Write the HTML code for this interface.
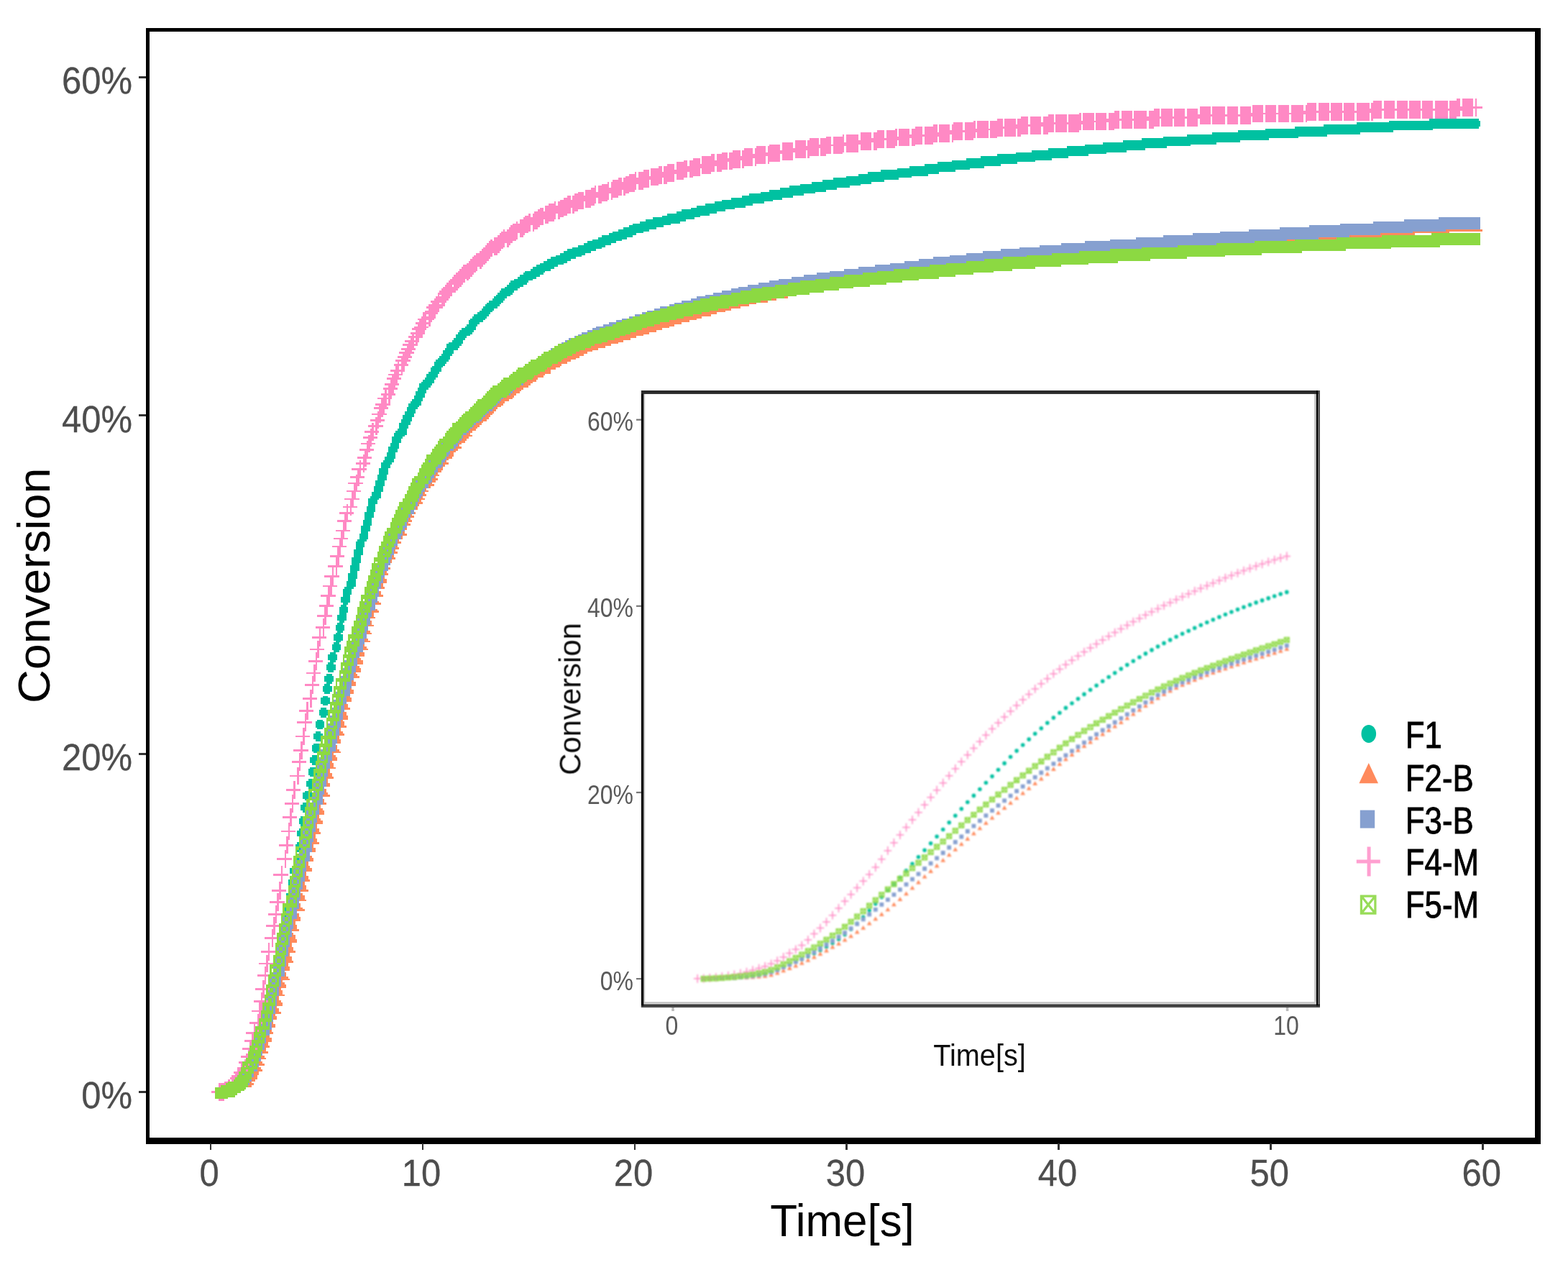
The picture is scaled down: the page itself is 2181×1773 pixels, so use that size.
<!DOCTYPE html>
<html lang="en"><head><meta charset="utf-8"><title>Conversion vs Time</title>
<style>html,body{margin:0;padding:0;background:#fff;width:2181px;height:1773px;overflow:hidden}svg{display:block}text{font-family:"Liberation Sans",sans-serif}</style></head>
<body>
<svg width="2181" height="1773" viewBox="0 0 2181 1773" role="img" aria-label="Conversion versus time for formulations F1 to F5-M with inset of the first 10 seconds">
<rect width="2181" height="1773" fill="#fff"/>
<defs><filter id="vb" x="0" y="0" width="100%" height="100%" filterUnits="userSpaceOnUse" primitiveUnits="userSpaceOnUse"><feGaussianBlur stdDeviation="0 0.6"/></filter></defs>
<g filter="url(#vb)">
<g id="main-series" shape-rendering="crispEdges" transform="scale(2.53605 2.74884)">
<path fill="#00C1A1" d="M784 60h27v1h-27zM762 61h50v1h-50zM744 62h68v1h-68zM726 63h86v1h-86zM710 64h101v1h-101zM694 65h92v1h-92zM679 66h85v1h-85zM665 67h81v1h-81zM651 68h77v1h-77zM638 69h74v1h-74zM626 70h70v1h-70zM616 71h64v1h-64zM605 72h62v1h-62zM595 73h58v1h-58zM585 74h55v1h-55zM575 75h53v1h-53zM566 76h52v1h-52zM557 77h50v1h-50zM547 78h50v1h-50zM538 79h48v1h-48zM530 80h47v1h-47zM522 81h46v1h-46zM514 82h44v1h-44zM507 83h42v1h-42zM499 84h41v1h-41zM492 85h40v1h-40zM483 86h41v1h-41zM476 87h39v1h-39zM471 88h38v1h-38zM464 89h36v1h-36zM457 90h36v1h-36zM451 91h34v1h-34zM445 92h33v1h-33zM439 93h33v1h-33zM433 94h33v1h-33zM428 95h31v1h-31zM422 96h31v1h-31zM417 97h30v1h-30zM411 98h30v1h-30zM407 99h28v1h-28zM401 100h28v1h-28zM396 101h28v1h-28zM392 102h27v1h-27zM387 103h26v1h-26zM382 104h27v1h-27zM379 105h24v1h-24zM374 106h24v1h-24zM371 107h22v1h-22zM366 108h23v1h-23zM363 109h21v1h-21zM358 110h23v1h-23zM354 111h22v1h-22zM351 112h22v1h-22zM347 113h21v1h-21zM345 114h19v1h-19zM342 115h18v1h-18zM339 116h17v1h-17zM336 117h17v1h-17zM334 118h15v1h-15zM330 119h17v1h-17zM328 120h16v1h-16zM325 121h16v1h-16zM322 122h16v1h-16zM320 123h15v1h-15zM317 124h15v1h-15zM314 125h16v1h-16zM311 126h16v1h-16zM309 127h15v1h-15zM307 128h14v1h-14zM305 129h14v1h-14zM302 130h14v1h-14zM300 131h13v1h-13zM298 132h13v1h-13zM296 133h13v1h-13zM294 134h12v1h-12zM292 135h12v1h-12zM291 136h11v1h-11zM288 137h11v1h-11zM287 138h11v1h-11zM285 139h11v1h-11zM284 140h10v1h-10zM282 141h10v1h-10zM280 142h10v1h-10zM279 143h10v1h-10zM278 144h9v1h-9zM277 145h8v1h-8zM275 146h9v1h-9zM274 147h8v1h-8zM273 148h8v1h-8zM272 149h8v1h-8zM271 150h7v1h-7zM270 151h7v1h-7zM268 152h8v1h-8zM267 153h8v1h-8zM266 154h8v1h-8zM265 155h8v1h-8zM264 156h7v1h-7zM263 157h7v1h-7zM262 158h7v1h-7zM260 159h8v1h-8zM259 160h8v1h-8zM258 161h8v1h-8zM257 162h8v1h-8zM257 163h6v1h-6zM256 164h6v1h-6zM255 165h6v1h-6zM253 166h8v1h-8zM252 167h8v1h-8zM251 168h8v1h-8zM250 169h8v1h-8zM250 170h6v1h-6zM249 171h6v1h-6zM248 172h6v1h-6zM246 173h8v1h-8zM245 174h8v1h-8zM245 175h7v1h-7zM244 176h7v1h-7zM243 177h6v2h-6zM242 179h6v1h-6zM241 180h6v1h-6zM240 181h7v1h-7zM239 182h7v1h-7zM238 183h7v1h-7zM238 184h6v1h-6zM237 185h6v1h-6zM236 186h6v2h-6zM235 188h6v1h-6zM234 189h6v2h-6zM233 191h6v1h-6zM232 192h6v1h-6zM231 193h7v1h-7zM230 194h7v1h-7zM230 195h6v1h-6zM229 196h6v1h-6zM229 197h5v1h-5zM228 198h6v1h-6zM228 199h5v1h-5zM227 200h6v1h-6zM227 201h5v1h-5zM226 202h6v1h-6zM225 203h6v1h-6zM224 204h7v1h-7zM224 205h6v1h-6zM223 206h6v1h-6zM223 207h5v1h-5zM222 208h6v1h-6zM222 209h5v1h-5zM221 210h6v1h-6zM221 211h5v1h-5zM220 212h6v1h-6zM220 213h5v1h-5zM219 214h6v1h-6zM219 215h5v2h-5zM218 217h5v1h-5zM217 218h6v1h-6zM216 219h7v1h-7zM216 220h6v1h-6zM215 221h6v1h-6zM215 222h5v2h-5zM214 224h5v2h-5zM213 226h6v1h-6zM213 227h5v2h-5zM212 229h5v2h-5zM211 231h6v1h-6zM211 232h5v1h-5zM210 233h6v1h-6zM209 234h6v1h-6zM209 235h5v2h-5zM208 237h5v3h-5zM207 240h5v3h-5zM206 243h5v3h-5zM205 246h5v3h-5zM204 249h5v2h-5zM203 251h6v1h-6zM202 252h6v1h-6zM202 253h5v2h-5zM202 255h4v1h-4zM201 256h5v3h-5zM200 259h5v3h-5zM200 262h4v1h-4zM199 263h5v3h-5zM198 266h5v3h-5zM198 269h4v1h-4zM197 270h5v3h-5zM196 273h5v1h-5zM195 274h5v3h-5zM195 277h4v1h-4zM194 278h5v3h-5zM194 281h4v1h-4zM193 282h5v3h-5zM193 285h4v1h-4zM192 286h5v3h-5zM192 289h4v1h-4zM191 290h5v3h-5zM191 293h4v1h-4zM190 294h5v3h-5zM189 297h5v1h-5zM188 298h5v3h-5zM188 301h4v1h-4zM187 302h5v3h-5zM188 305h3v1h-3zM187 306h3v1h-3zM186 307h5v3h-5zM186 310h4v1h-4zM185 311h5v3h-5zM186 314h3v1h-3zM185 315h3v1h-3zM184 316h5v3h-5zM185 319h3v1h-3zM184 320h3v1h-3zM183 321h5v3h-5zM184 324h3v1h-3zM183 325h3v1h-3zM182 326h5v3h-5zM183 329h3v1h-3zM181 330h3v1h-3zM180 331h5v3h-5zM181 334h3v1h-3zM180 335h3v1h-3zM179 336h5v3h-5zM180 339h3v1h-3zM179 341h3v1h-3zM178 342h5v3h-5zM179 345h3v1h-3zM178 346h3v1h-3zM177 347h5v3h-5zM178 350h3v1h-3zM177 352h3v1h-3zM176 353h5v3h-5zM177 356h3v1h-3zM176 358h3v1h-3zM175 359h5v3h-5zM176 362h3v1h-3zM174 364h3v1h-3zM173 365h5v3h-5zM174 368h3v1h-3zM173 370h3v1h-3zM172 371h5v1h-5zM172 372h4v2h-4zM173 374h3v1h-3zM172 376h3v1h-3zM171 377h4v3h-4zM172 380h2v1h-2zM171 382h3v1h-3zM170 383h4v2h-4zM170 385h3v1h-3zM171 386h2v1h-2zM170 388h3v1h-3zM169 389h3v3h-3zM173 391h1v1h-1zM170 392h2v1h-2zM169 394h2v1h-2zM168 395h3v3h-3zM169 398h2v1h-2zM167 400h2v1h-2zM166 401h3v3h-3zM170 401h1v2h-1zM167 404h1v1h-1zM166 406h2v1h-2zM165 407h3v1h-3zM165 408h2v2h-2zM166 410h1v1h-1zM165 413h1v1h-1zM164 414h2v3h-2zM165 417h1v1h-1zM164 419h1v1h-1zM163 420h2v3h-2zM163 426h1v1h-1zM162 427h2v1h-2zM164 429h1v1h-1zM163 430h1v1h-1zM163 434h1v1h-1zM159 439h1v3h-1zM158 445h1v3h-1zM157 452h1v1h-1zM156 459h1v2h-1zM156 463h1v1h-1z"/>
<path fill="#FF8A5C" d="M793 116h20v1h-20zM775 117h20v1h-20zM757 118h19v1h-19zM740 119h18v1h-18zM723 120h10v1h-10zM706 121h4v1h-4zM430 150h2v1h-2zM423 151h3v1h-3zM417 152h4v1h-4zM411 153h4v1h-4zM405 154h6v1h-6zM400 155h6v1h-6zM394 156h7v1h-7zM389 157h9v1h-9zM385 158h8v1h-8zM380 159h10v1h-10zM375 160h10v1h-10zM371 161h11v1h-11zM367 162h11v1h-11zM362 163h12v1h-12zM359 164h11v1h-11zM355 165h12v1h-12zM352 166h11v1h-11zM349 167h11v1h-11zM346 168h10v1h-10zM343 169h10v1h-10zM340 170h9v1h-9zM337 171h9v1h-9zM333 172h9v1h-9zM330 173h9v1h-9zM326 174h9v1h-9zM324 175h8v1h-8zM321 176h7v1h-7zM318 177h7v1h-7zM316 178h6v1h-6zM314 179h6v1h-6zM311 180h7v1h-7zM309 181h7v1h-7zM308 182h5v1h-5zM306 183h5v1h-5zM303 184h5v1h-5zM302 185h5v1h-5zM300 186h5v1h-5zM299 187h3v1h-3zM296 188h6v1h-6zM295 189h4v1h-4zM293 190h5v1h-5zM292 191h3v1h-3zM289 192h5v1h-5zM288 193h4v1h-4zM287 194h4v1h-4zM285 195h5v1h-5zM283 196h4v1h-4zM282 197h4v1h-4zM281 198h4v1h-4zM280 199h3v1h-3zM278 200h4v1h-4zM276 201h5v1h-5zM275 202h4v1h-4zM274 203h3v1h-3zM273 204h3v1h-3zM272 205h3v1h-3zM271 206h2v1h-2zM270 207h2v1h-2zM268 208h3v1h-3zM267 209h3v1h-3zM266 210h3v1h-3zM265 211h3v1h-3zM264 212h3v1h-3zM263 213h2v1h-2zM261 214h3v1h-3zM260 215h3v1h-3zM259 216h3v1h-3zM258 217h3v1h-3zM257 218h2v1h-2zM256 219h2v1h-2zM254 220h5v1h-5zM254 221h3v1h-3zM253 222h3v1h-3zM252 223h3v1h-3zM251 224h2v1h-2zM251 225h1v1h-1zM250 226h3v1h-3zM249 227h2v1h-2zM247 228h3v1h-3zM247 229h2v1h-2zM246 230h3v1h-3zM245 231h3v1h-3zM245 232h1v1h-1zM244 233h1v1h-1zM243 234h3v1h-3zM243 235h1v1h-1zM242 236h1v1h-1zM240 237h3v1h-3zM240 238h2v1h-2zM239 239h1v1h-1zM238 240h3v1h-3zM238 241h1v1h-1zM237 242h3v1h-3zM237 243h2v1h-2zM236 244h1v1h-1zM235 245h3v1h-3zM235 246h1v1h-1zM233 247h1v1h-1zM233 248h2v1h-2zM232 249h1v1h-1zM232 250h2v1h-2zM231 251h1v1h-1zM230 252h3v1h-3zM230 253h1v1h-1zM229 254h3v1h-3zM229 255h1v1h-1zM228 256h1v2h-1zM227 259h1v1h-1zM225 260h1v1h-1zM225 261h2v1h-2zM224 262h1v1h-1zM224 263h2v1h-2zM223 264h1v1h-1zM223 265h2v1h-2zM222 267h1v1h-1zM221 269h1v1h-1zM221 270h2v1h-2zM220 271h1v2h-1zM218 273h1v1h-1zM218 274h2v1h-2zM217 276h1v1h-1zM217 277h2v1h-2zM216 278h1v1h-1zM216 279h2v1h-2zM215 281h1v1h-1zM215 282h2v1h-2zM214 283h1v2h-1zM213 287h1v1h-1zM211 289h1v1h-1zM211 290h2v1h-2zM210 292h1v1h-1zM210 293h2v2h-2zM209 295h1v2h-1zM209 297h2v1h-2zM208 299h1v2h-1zM208 301h2v1h-2zM207 304h1v1h-1zM206 305h3v1h-3zM206 308h1v1h-1zM204 309h4v1h-4zM204 310h1v2h-1zM203 312h3v1h-3zM203 314h1v2h-1zM202 316h3v1h-3zM201 319h2v1h-2zM201 320h3v1h-3zM200 323h2v1h-2zM200 324h3v1h-3zM199 326h1v1h-1zM199 327h2v1h-2zM199 328h3v1h-3zM197 330h3v2h-3zM196 333h2v1h-2zM196 334h3v2h-3zM195 337h2v1h-2zM195 338h3v2h-3zM194 340h1v1h-1zM194 341h2v1h-2zM194 342h3v1h-3zM193 344h1v1h-1zM193 345h2v2h-2zM192 348h1v1h-1zM192 349h2v2h-2zM190 352h2v1h-2zM190 353h3v2h-3zM189 356h2v2h-2zM189 358h3v1h-3zM188 360h2v2h-2zM188 362h3v2h-3zM187 364h1v1h-1zM187 365h2v2h-2zM187 367h3v1h-3zM186 368h1v2h-1zM186 370h2v1h-2zM186 371h3v1h-3zM185 372h1v2h-1zM185 374h2v2h-2zM184 377h1v2h-1zM184 379h2v1h-2zM182 380h5v1h-5zM182 381h1v1h-1zM182 382h2v1h-2zM182 383h3v2h-3zM181 385h1v1h-1zM181 386h2v2h-2zM181 388h3v1h-3zM180 389h1v2h-1zM180 391h2v2h-2zM179 393h4v1h-4zM179 394h1v2h-1zM179 396h2v2h-2zM178 399h1v2h-1zM178 401h2v1h-2zM177 402h4v1h-4zM177 404h1v2h-1zM177 406h2v1h-2zM175 407h1v2h-1zM175 409h2v1h-2zM175 410h3v2h-3zM174 412h1v2h-1zM174 414h2v1h-2zM174 415h3v1h-3zM173 416h4v1h-4zM173 417h1v2h-1zM173 419h2v2h-2zM172 421h4v1h-4zM172 422h1v2h-1zM172 424h2v2h-2zM171 426h4v1h-4zM171 427h1v2h-1zM171 429h2v2h-2zM170 433h1v1h-1zM170 434h2v2h-2zM168 436h1v2h-1zM168 438h2v1h-2zM168 439h3v2h-3zM167 441h1v2h-1zM167 443h2v2h-2zM167 445h3v1h-3zM166 446h1v2h-1zM166 448h2v2h-2zM165 450h4v1h-4zM165 452h1v1h-1zM165 453h2v2h-2zM164 455h4v1h-4zM164 457h1v2h-1zM164 459h2v1h-2zM163 460h4v1h-4zM163 462h1v2h-1zM163 464h2v1h-2zM161 465h4v1h-4zM161 466h1v2h-1zM161 468h2v2h-2zM160 470h4v1h-4zM160 472h1v1h-1zM160 473h2v1h-2zM159 474h3v1h-3zM159 475h4v2h-4zM159 477h1v2h-1zM158 479h3v2h-3zM158 481h4v1h-4zM158 482h1v2h-1zM157 484h3v2h-3zM157 486h4v1h-4zM157 487h1v2h-1zM156 489h3v2h-3zM156 492h1v2h-1zM154 494h4v1h-4zM154 495h5v1h-5zM154 496h1v1h-1zM154 497h2v1h-2zM154 498h3v1h-3zM153 499h4v1h-4zM153 500h1v1h-1zM153 501h2v2h-2zM153 503h3v1h-3zM152 504h1v2h-1zM152 506h2v1h-2zM152 507h3v2h-3zM151 509h1v1h-1zM151 510h2v2h-2zM151 512h3v1h-3zM150 513h1v1h-1zM150 514h2v2h-2zM149 517h1v1h-1zM149 518h2v2h-2zM148 521h1v1h-1zM148 522h2v1h-2zM146 524h2v1h-2zM146 525h3v2h-3zM146 527h1v1h-1zM145 528h2v1h-2zM145 529h3v1h-3zM145 530h1v1h-1zM144 531h2v1h-2zM144 532h3v1h-3zM143 534h2v1h-2zM143 535h3v1h-3zM142 537h2v1h-2zM142 538h3v1h-3zM141 540h2v1h-2zM141 541h3v1h-3zM139 542h3v2h-3zM139 544h2v1h-2zM138 545h3v1h-3zM138 546h2v1h-2zM137 547h1v1h-1zM137 548h2v1h-2zM136 549h2v1h-2z"/>
<path fill="#86A0D0" d="M789 110h23v1h-23zM770 111h42v1h-42zM753 112h59v1h-59zM735 113h77v1h-77zM718 114h94v1h-94zM702 115h110v1h-110zM685 116h108v1h-108zM669 117h106v1h-106zM654 118h103v1h-103zM638 119h102v1h-102zM623 120h100v1h-100zM609 121h97v1h-97zM595 122h93v1h-93zM582 123h85v1h-85zM570 124h76v1h-76zM559 125h67v1h-67zM549 126h60v1h-60zM539 127h53v1h-53zM530 128h47v1h-47zM521 129h42v1h-42zM512 130h38v1h-38zM504 131h36v1h-36zM496 132h34v1h-34zM488 133h31v1h-31zM480 134h30v1h-30zM471 135h28v1h-28zM463 136h27v1h-27zM455 137h26v1h-26zM448 138h25v1h-25zM441 139h22v1h-22zM434 140h21v1h-21zM427 141h20v1h-20zM422 142h17v1h-17zM416 143h16v1h-16zM410 144h15v1h-15zM405 145h13v1h-13zM401 146h11v1h-11zM396 147h10v1h-10zM391 148h10v1h-10zM387 149h8v1h-8zM382 150h7v1h-7zM379 151h5v1h-5zM374 152h6v1h-6zM370 153h5v1h-5zM367 154h3v1h-3zM362 155h4v1h-4zM359 156h3v1h-3zM355 157h3v1h-3zM352 158h2v1h-2zM348 159h3v1h-3zM345 160h2v1h-2zM341 161h3v1h-3zM338 162h3v1h-3zM334 163h4v1h-4zM331 164h5v1h-5zM327 165h5v1h-5zM325 166h4v1h-4zM322 167h3v1h-3zM319 168h3v1h-3zM317 169h2v1h-2zM315 170h1v1h-1zM312 171h1v1h-1zM310 172h1v1h-1zM308 173h1v1h-1zM302 176h1v1h-1zM286 194h1v1h-1zM281 197h1v1h-1zM280 198h1v1h-1zM279 199h1v1h-1zM275 201h1v1h-1zM274 202h1v1h-1zM273 203h1v1h-1zM272 204h1v1h-1zM271 205h1v1h-1zM270 206h1v1h-1zM268 207h2v1h-2zM267 208h1v1h-1zM266 209h1v1h-1zM265 210h1v1h-1zM264 211h1v1h-1zM263 212h1v1h-1zM261 213h2v1h-2zM260 214h1v1h-1zM259 215h1v1h-1zM258 216h1v1h-1zM257 217h1v1h-1zM256 218h1v1h-1zM254 219h2v1h-2zM253 220h1v2h-1zM252 222h1v1h-1zM251 223h1v1h-1zM242 224h1v1h-1zM250 224h1v1h-1zM249 225h2v1h-2zM249 226h1v1h-1zM247 227h2v1h-2zM246 228h1v1h-1zM245 229h2v1h-2zM245 230h1v1h-1zM244 231h1v1h-1zM243 232h2v1h-2zM235 233h1v1h-1zM242 233h2v1h-2zM242 234h1v1h-1zM240 235h3v1h-3zM239 236h3v1h-3zM239 237h1v1h-1zM238 238h2v1h-2zM238 239h1v1h-1zM237 240h1v1h-1zM233 241h1v1h-1zM236 241h2v1h-2zM236 242h1v1h-1zM228 243h1v1h-1zM235 243h2v1h-2zM235 244h1v1h-1zM233 245h2v2h-2zM232 247h1v1h-1zM231 248h2v1h-2zM231 249h1v1h-1zM230 250h2v1h-2zM230 251h1v1h-1zM229 252h1v2h-1zM225 254h1v1h-1zM228 254h1v2h-1zM227 256h1v2h-1zM220 257h1v1h-1zM225 258h2v2h-2zM224 260h1v2h-1zM223 262h1v2h-1zM222 264h1v2h-1zM218 266h1v1h-1zM221 266h2v1h-2zM221 267h1v1h-1zM220 268h2v1h-2zM220 269h1v1h-1zM213 270h1v1h-1zM218 270h3v1h-3zM218 271h2v2h-2zM214 273h1v1h-1zM217 273h1v2h-1zM212 275h1v1h-1zM216 275h2v1h-2zM216 276h1v1h-1zM210 277h1v1h-1zM215 277h2v1h-2zM212 278h1v1h-1zM215 278h1v2h-1zM210 280h1v1h-1zM214 280h2v1h-2zM214 281h1v1h-1zM211 282h1v1h-1zM213 282h2v1h-2zM213 283h1v2h-1zM211 285h3v1h-3zM207 286h1v1h-1zM211 286h2v2h-2zM210 288h3v1h-3zM206 289h1v1h-1zM210 289h1v2h-1zM209 291h2v1h-2zM205 292h1v1h-1zM209 292h1v2h-1zM208 294h2v1h-2zM204 295h1v1h-1zM208 295h1v2h-1zM207 297h2v1h-2zM203 298h1v1h-1zM207 298h1v2h-1zM201 300h1v1h-1zM204 300h1v1h-1zM206 300h2v2h-2zM206 302h1v1h-1zM202 303h1v1h-1zM204 303h3v2h-3zM200 305h1v1h-1zM204 305h2v2h-2zM203 307h3v2h-3zM199 308h1v1h-1zM203 309h1v1h-1zM197 310h1v1h-1zM200 310h1v1h-1zM202 310h2v2h-2zM202 312h1v1h-1zM196 313h1v1h-1zM199 313h1v1h-1zM201 313h2v3h-2zM197 315h1v1h-1zM201 316h1v1h-1zM200 317h2v2h-2zM196 318h1v1h-1zM200 319h1v1h-1zM194 320h1v1h-1zM197 320h1v1h-1zM199 320h2v3h-2zM195 323h1v1h-1zM197 323h3v3h-3zM193 325h1v1h-1zM197 326h2v1h-2zM196 327h3v3h-3zM192 328h1v1h-1zM193 330h1v1h-1zM195 330h2v3h-2zM192 333h1v2h-1zM194 333h2v4h-2zM189 334h1v1h-1zM191 337h1v2h-1zM193 337h2v3h-2zM188 338h1v1h-1zM193 340h1v1h-1zM190 341h1v2h-1zM192 341h2v3h-2zM187 342h1v1h-1zM192 344h1v1h-1zM188 345h1v2h-1zM190 345h3v3h-3zM190 348h2v1h-2zM187 349h1v2h-1zM189 349h3v3h-3zM184 350h1v1h-1zM189 352h1v1h-1zM186 353h1v2h-1zM188 353h2v3h-2zM183 354h1v1h-1zM188 356h1v1h-1zM185 357h1v2h-1zM187 357h2v3h-2zM182 358h1v1h-1zM187 360h1v1h-1zM184 361h1v2h-1zM186 361h2v3h-2zM181 362h1v1h-1zM186 364h1v1h-1zM183 365h1v2h-1zM185 365h2v3h-2zM180 366h1v1h-1zM181 367h2v1h-2zM185 368h1v1h-1zM180 369h2v1h-2zM184 369h2v3h-2zM179 370h1v2h-1zM182 370h1v2h-1zM184 372h1v2h-1zM180 374h1v2h-1zM182 374h3v2h-3zM182 376h2v2h-2zM179 378h1v2h-1zM181 378h3v2h-3zM176 379h1v1h-1zM181 380h1v2h-1zM178 382h1v2h-1zM180 382h2v3h-2zM175 383h1v1h-1zM176 384h2v1h-2zM180 385h1v1h-1zM175 386h2v1h-2zM179 386h2v3h-2zM174 387h1v2h-1zM177 387h1v2h-1zM179 389h1v2h-1zM176 391h1v2h-1zM178 391h2v2h-2zM173 392h1v1h-1zM174 393h2v1h-2zM178 393h1v2h-1zM173 395h2v1h-2zM177 395h2v3h-2zM172 396h1v2h-1zM175 396h1v2h-1zM173 398h2v1h-2zM177 398h1v2h-1zM172 400h1v1h-1zM175 400h3v2h-3zM173 401h1v2h-1zM175 402h2v3h-2zM171 403h2v1h-2zM171 405h1v1h-1zM174 405h3v2h-3zM169 406h1v2h-1zM172 406h1v2h-1zM174 407h1v3h-1zM168 410h1v2h-1zM171 410h1v2h-1zM173 410h2v2h-2zM169 412h2v1h-2zM173 412h1v2h-1zM168 414h2v1h-2zM172 414h2v2h-2zM167 415h1v2h-1zM170 415h1v2h-1zM172 416h1v3h-1zM168 417h2v1h-2zM167 419h2v1h-2zM171 419h2v2h-2zM166 420h1v2h-1zM169 420h1v2h-1zM171 421h1v3h-1zM167 422h2v1h-2zM166 424h2v1h-2zM170 424h2v2h-2zM165 425h1v2h-1zM168 425h1v2h-1zM170 426h1v3h-1zM166 427h2v1h-2zM165 429h1v1h-1zM168 429h3v2h-3zM166 430h1v2h-1zM168 431h2v3h-2zM164 432h2v1h-2zM164 434h1v1h-1zM167 434h3v2h-3zM162 435h1v2h-1zM165 435h1v2h-1zM167 436h1v3h-1zM163 437h2v1h-2zM162 439h2v1h-2zM166 439h2v2h-2zM161 440h1v2h-1zM164 440h1v2h-1zM166 441h1v3h-1zM162 442h2v1h-2zM161 444h2v1h-2zM165 444h2v2h-2zM160 445h1v2h-1zM163 445h1v2h-1zM165 446h1v3h-1zM161 447h2v1h-2zM160 449h2v1h-2zM164 449h2v1h-2zM159 450h1v2h-1zM162 450h1v2h-1zM164 450h1v4h-1zM160 452h2v1h-2zM159 454h2v1h-2zM163 454h2v1h-2zM158 455h1v2h-1zM161 455h1v2h-1zM163 455h1v4h-1zM159 459h1v2h-1zM161 459h3v1h-3zM161 460h2v3h-2zM157 461h2v1h-2zM157 463h1v1h-1zM160 463h3v2h-3zM155 464h1v2h-1zM158 464h1v2h-1zM160 465h1v3h-1zM156 466h2v1h-2zM155 468h2v1h-2zM159 468h2v2h-2zM154 469h1v2h-1zM157 469h1v2h-1zM159 470h1v3h-1zM155 471h2v1h-2zM154 473h2v1h-2zM158 473h2v1h-2zM153 474h1v2h-1zM156 474h1v2h-1zM158 474h1v4h-1zM154 476h2v1h-2zM153 478h2v1h-2zM157 478h2v1h-2zM152 479h1v2h-1zM155 479h1v2h-1zM157 479h1v4h-1zM153 481h2v1h-2zM156 483h2v1h-2zM152 484h2v1h-2zM156 484h1v5h-1zM151 485h1v2h-1zM154 485h1v2h-1zM152 487h2v1h-2zM150 489h2v1h-2zM154 489h2v5h-2zM152 490h1v2h-1zM150 492h2v1h-2zM149 494h2v1h-2zM153 494h1v5h-1zM148 495h1v2h-1zM151 495h1v2h-1zM149 497h2v1h-2zM148 499h2v1h-2zM152 499h1v5h-1zM150 500h1v2h-1zM147 501h1v1h-1zM148 502h2v1h-2zM147 504h2v1h-2zM151 504h1v5h-1zM146 505h1v1h-1zM149 505h1v2h-1zM145 509h1v2h-1zM148 509h1v2h-1zM150 509h1v4h-1zM144 513h1v2h-1zM147 513h1v2h-1zM149 513h1v4h-1zM146 517h1v2h-1zM148 517h1v4h-1zM143 518h1v1h-1zM144 521h1v1h-1zM146 521h2v3h-2zM142 523h1v1h-1zM140 525h1v1h-1zM143 525h1v1h-1zM145 525h1v3h-1zM139 528h1v1h-1zM142 528h1v1h-1zM144 528h1v3h-1zM143 532h1v2h-1zM139 533h1v1h-1zM142 535h1v2h-1zM138 536h1v1h-1zM139 538h1v1h-1zM141 538h1v2h-1zM137 539h1v1h-1zM139 541h2v1h-2zM133 543h1v1h-1zM138 543h1v2h-1zM137 546h1v1h-1zM136 548h1v1h-1z"/>
<path fill="#FF89C4" d="M799 50h2v1h-2zM802 50h6v4h-6zM809 50h1v4h-1zM753 51h5v1h-5zM759 51h6v4h-6zM766 51h6v4h-6zM773 51h6v4h-6zM780 51h6v4h-6zM787 51h7v4h-7zM795 51h6v3h-6zM717 52h5v1h-5zM723 52h6v4h-6zM730 52h6v4h-6zM737 52h6v4h-6zM744 52h7v3h-7zM752 52h6v3h-6zM687 53h6v4h-6zM694 53h6v4h-6zM701 53h6v4h-6zM708 53h7v3h-7zM716 53h6v3h-6zM658 54h6v4h-6zM665 54h7v4h-7zM673 54h6v4h-6zM680 54h6v3h-6zM795 54h18v1h-18zM633 55h3v1h-3zM637 55h6v4h-6zM644 55h6v4h-6zM651 55h6v3h-6zM744 55h64v1h-64zM809 55h1v4h-1zM611 56h3v1h-3zM615 56h6v4h-6zM622 56h7v3h-7zM630 56h6v3h-6zM708 56h50v1h-50zM759 56h6v4h-6zM766 56h6v4h-6zM773 56h6v4h-6zM780 56h6v4h-6zM787 56h7v4h-7zM795 56h6v3h-6zM802 56h6v3h-6zM592 57h1v1h-1zM594 57h6v4h-6zM601 57h6v3h-6zM608 57h6v3h-6zM680 57h42v1h-42zM723 57h6v4h-6zM730 57h6v4h-6zM737 57h6v4h-6zM744 57h7v4h-7zM752 57h6v3h-6zM575 58h3v1h-3zM579 58h6v4h-6zM586 58h7v3h-7zM651 58h42v1h-42zM694 58h6v4h-6zM701 58h6v4h-6zM708 58h7v4h-7zM716 58h6v3h-6zM560 59h4v1h-4zM565 59h6v3h-6zM572 59h6v3h-6zM622 59h42v1h-42zM665 59h7v4h-7zM673 59h6v4h-6zM680 59h6v4h-6zM687 59h6v3h-6zM795 59h4v1h-4zM547 60h3v1h-3zM551 60h6v3h-6zM558 60h6v3h-6zM601 60h35v1h-35zM637 60h6v4h-6zM644 60h6v4h-6zM651 60h6v4h-6zM658 60h6v3h-6zM752 60h1v1h-1zM534 61h1v1h-1zM536 61h6v4h-6zM543 61h7v3h-7zM586 61h28v1h-28zM615 61h6v4h-6zM622 61h7v4h-7zM630 61h6v3h-6zM716 61h1v1h-1zM523 62h5v1h-5zM529 62h6v3h-6zM565 62h35v1h-35zM601 62h6v4h-6zM608 62h6v3h-6zM512 63h2v1h-2zM515 63h6v3h-6zM522 63h6v3h-6zM551 63h27v1h-27zM579 63h6v4h-6zM586 63h7v3h-7zM594 63h6v3h-6zM502 64h4v1h-4zM507 64h7v3h-7zM543 64h21v1h-21zM565 64h6v4h-6zM572 64h6v3h-6zM630 64h3v1h-3zM491 65h1v1h-1zM493 65h6v3h-6zM500 65h6v3h-6zM529 65h21v1h-21zM551 65h6v4h-6zM558 65h6v3h-6zM608 65h3v1h-3zM481 66h4v1h-4zM486 66h6v3h-6zM515 66h27v1h-27zM543 66h7v3h-7zM586 66h6v1h-6zM472 67h6v3h-6zM479 67h6v3h-6zM507 67h21v1h-21zM529 67h6v3h-6zM536 67h6v3h-6zM572 67h3v1h-3zM462 68h1v1h-1zM464 68h7v3h-7zM493 68h28v1h-28zM522 68h6v3h-6zM558 68h2v1h-2zM453 69h3v1h-3zM457 69h6v3h-6zM486 69h20v1h-20zM507 69h7v3h-7zM515 69h6v3h-6zM543 69h4v1h-4zM444 70h5v1h-5zM450 70h6v3h-6zM472 70h27v1h-27zM500 70h6v3h-6zM529 70h5v1h-5zM436 71h6v3h-6zM443 71h6v2h-6zM464 71h21v1h-21zM486 71h6v3h-6zM493 71h6v3h-6zM522 71h1v1h-1zM429 72h6v3h-6zM457 72h21v1h-21zM479 72h6v3h-6zM507 72h5v1h-5zM422 73h6v1h-6zM443 73h28v1h-28zM472 73h6v3h-6zM500 73h2v1h-2zM415 74h5v1h-5zM421 74h7v2h-7zM436 74h20v1h-20zM457 74h6v3h-6zM464 74h7v3h-7zM486 74h5v1h-5zM408 75h5v1h-5zM414 75h6v2h-6zM429 75h20v1h-20zM450 75h6v3h-6zM479 75h2v1h-2zM402 76h4v1h-4zM407 76h6v2h-6zM421 76h21v1h-21zM443 76h6v3h-6zM396 77h3v1h-3zM400 77h6v2h-6zM414 77h21v1h-21zM436 77h6v3h-6zM457 77h5v1h-5zM390 78h2v1h-2zM393 78h6v2h-6zM407 78h21v1h-21zM429 78h6v3h-6zM450 78h3v1h-3zM385 79h7v2h-7zM400 79h20v1h-20zM421 79h7v3h-7zM443 79h1v1h-1zM380 80h4v1h-4zM393 80h20v1h-20zM414 80h6v3h-6zM375 81h2v1h-2zM378 81h6v2h-6zM385 81h21v1h-21zM407 81h6v3h-6zM371 82h6v2h-6zM385 82h14v1h-14zM400 82h6v3h-6zM421 82h1v1h-1zM366 83h4v1h-4zM378 83h21v1h-21zM414 83h1v1h-1zM361 84h2v1h-2zM364 84h6v2h-6zM371 84h21v1h-21zM393 84h6v2h-6zM407 84h1v1h-1zM357 85h6v2h-6zM371 85h13v1h-13zM385 85h7v2h-7zM400 85h2v1h-2zM353 86h3v1h-3zM364 86h20v1h-20zM393 86h3v1h-3zM348 87h1v1h-1zM350 87h6v2h-6zM357 87h20v1h-20zM378 87h6v2h-6zM385 87h5v1h-5zM345 88h4v1h-4zM357 88h13v1h-13zM371 88h6v2h-6zM343 89h6v1h-6zM350 89h20v1h-20zM378 89h2v1h-2zM339 90h2v1h-2zM342 90h21v1h-21zM364 90h6v2h-6zM371 90h4v1h-4zM336 91h5v1h-5zM342 91h14v1h-14zM357 91h6v2h-6zM333 92h1v1h-1zM335 92h21v1h-21zM364 92h2v1h-2zM330 93h4v1h-4zM335 93h14v2h-14zM350 93h6v2h-6zM357 93h4v1h-4zM326 94h1v1h-1zM328 94h6v1h-6zM324 95h3v1h-3zM328 95h21v1h-21zM350 95h3v1h-3zM321 96h6v1h-6zM328 96h13v1h-13zM342 96h6v1h-6zM317 97h3v1h-3zM321 97h20v1h-20zM342 97h3v1h-3zM315 98h5v1h-5zM321 98h13v1h-13zM335 98h6v1h-6zM342 98h1v1h-1zM311 99h2v1h-2zM314 99h20v1h-20zM335 99h4v1h-4zM309 100h4v1h-4zM314 100h13v1h-13zM328 100h6v1h-6zM335 100h1v1h-1zM307 101h20v1h-20zM328 101h5v1h-5zM304 102h1v1h-1zM306 102h14v2h-14zM321 102h6v1h-6zM328 102h2v1h-2zM301 103h4v1h-4zM321 103h5v1h-5zM299 104h21v1h-21zM321 104h3v1h-3zM296 105h2v1h-2zM299 105h14v2h-14zM314 105h6v1h-6zM295 106h3v1h-3zM314 106h3v1h-3zM293 107h20v1h-20zM314 107h1v1h-1zM290 108h1v1h-1zM292 108h13v2h-13zM306 108h5v1h-5zM288 109h3v1h-3zM306 109h3v1h-3zM287 110h18v1h-18zM306 110h1v1h-1zM285 111h13v2h-13zM299 111h5v1h-5zM283 112h1v1h-1zM299 112h2v1h-2zM281 113h17v1h-17zM280 114h11v1h-11zM292 114h4v1h-4zM279 115h12v1h-12zM292 115h3v1h-3zM276 116h1v1h-1zM278 116h13v1h-13zM292 116h1v1h-1zM275 117h15v1h-15zM274 118h10v1h-10zM285 118h3v1h-3zM273 119h11v1h-11zM285 119h2v1h-2zM271 120h13v1h-13zM269 121h1v1h-1zM271 121h12v1h-12zM268 122h13v1h-13zM267 123h10v1h-10zM278 123h2v1h-2zM266 124h11v1h-11zM278 124h1v1h-1zM265 125h11v1h-11zM264 126h11v1h-11zM263 127h11v1h-11zM261 128h9v1h-9zM271 128h2v1h-2zM260 129h10v1h-10zM259 130h10v1h-10zM258 131h10v1h-10zM257 132h10v1h-10zM256 133h10v1h-10zM254 134h11v1h-11zM253 135h9v1h-9zM263 135h1v1h-1zM252 136h10v1h-10zM251 137h10v1h-10zM250 138h10v1h-10zM249 139h10v1h-10zM248 140h10v1h-10zM247 141h8v1h-8zM256 141h1v1h-1zM246 142h9v1h-9zM245 143h9v1h-9zM244 144h4v1h-4zM249 144h4v1h-4zM243 145h9v1h-9zM242 146h9v1h-9zM241 147h9v1h-9zM240 148h8v1h-8zM240 149h1v1h-1zM242 149h6v1h-6zM239 150h8v1h-8zM238 151h8v1h-8zM236 152h9v1h-9zM237 153h4v1h-4zM242 153h2v1h-2zM235 154h9v1h-9zM234 155h9v1h-9zM235 156h6v1h-6zM233 157h8v1h-8zM232 158h8v1h-8zM232 159h2v1h-2zM235 159h4v1h-4zM231 160h8v1h-8zM229 161h9v1h-9zM230 162h4v1h-4zM235 162h2v1h-2zM228 163h8v1h-8zM229 164h5v1h-5zM235 164h1v1h-1zM227 165h8v1h-8zM226 166h8v1h-8zM228 167h5v1h-5zM225 168h8v1h-8zM226 169h1v1h-1zM228 169h4v1h-4zM224 170h8v1h-8zM225 171h2v1h-2zM228 171h2v1h-2zM222 172h8v1h-8zM224 173h3v1h-3zM228 173h1v1h-1zM221 174h8v1h-8zM223 175h4v1h-4zM220 176h8v1h-8zM222 177h4v1h-4zM219 178h8v1h-8zM221 179h4v1h-4zM218 180h8v1h-8zM220 181h4v1h-4zM217 182h8v1h-8zM218 183h1v1h-1zM220 183h3v1h-3zM216 184h8v1h-8zM217 185h2v2h-2zM220 185h2v2h-2zM214 187h8v1h-8zM216 188h3v1h-3zM220 188h1v1h-1zM213 189h8v1h-8zM215 190h4v1h-4zM212 191h8v1h-8zM214 192h4v2h-4zM211 194h8v1h-8zM213 195h4v1h-4zM210 196h8v1h-8zM211 197h1v2h-1zM213 197h3v2h-3zM209 199h8v1h-8zM210 200h2v1h-2zM213 200h2v1h-2zM207 201h8v1h-8zM209 202h3v2h-3zM213 202h1v2h-1zM206 204h8v1h-8zM208 205h4v1h-4zM205 206h8v1h-8zM208 207h3v1h-3zM207 208h4v1h-4zM204 209h8v1h-8zM207 210h3v1h-3zM206 211h3v1h-3zM203 212h8v1h-8zM206 213h3v1h-3zM204 214h1v1h-1zM206 214h2v1h-2zM202 215h8v1h-8zM204 216h1v1h-1zM206 216h2v1h-2zM203 217h2v1h-2zM206 217h1v1h-1zM200 218h8v1h-8zM203 219h2v1h-2zM206 219h1v1h-1zM202 220h3v1h-3zM199 221h8v1h-8zM202 222h3v1h-3zM201 223h3v1h-3zM198 224h8v1h-8zM201 225h3v1h-3zM201 226h2v1h-2zM197 227h8v1h-8zM200 228h3v1h-3zM200 229h2v1h-2zM199 230h3v1h-3zM196 231h8v1h-8zM199 232h2v2h-2zM197 233h1v1h-1zM195 234h8v1h-8zM197 235h1v2h-1zM199 235h2v1h-2zM199 236h1v1h-1zM193 237h8v1h-8zM196 238h2v2h-2zM199 238h1v1h-1zM195 240h3v1h-3zM192 241h8v1h-8zM195 242h2v2h-2zM191 244h8v1h-8zM194 245h3v1h-3zM194 246h2v2h-2zM190 248h8v1h-8zM193 249h2v3h-2zM189 252h8v1h-8zM192 253h2v3h-2zM190 255h1v1h-1zM188 256h8v1h-8zM190 257h1v2h-1zM192 257h1v2h-1zM186 259h8v1h-8zM189 260h2v3h-2zM192 260h1v1h-1zM185 263h8v1h-8zM188 264h2v4h-2zM184 268h8v1h-8zM187 269h2v3h-2zM183 272h8v1h-8zM186 273h2v3h-2zM182 276h8v1h-8zM185 277h2v4h-2zM181 281h8v1h-8zM184 282h2v4h-2zM180 286h8v1h-8zM182 287h1v4h-1zM184 287h1v4h-1zM178 291h8v1h-8zM181 292h2v4h-2zM177 296h8v1h-8zM180 297h2v4h-2zM176 301h8v1h-8zM179 302h2v4h-2zM175 306h8v1h-8zM178 307h2v4h-2zM174 311h8v1h-8zM178 312h1v1h-1zM177 313h2v3h-2zM177 316h1v1h-1zM173 317h8v1h-8zM175 318h1v4h-1zM177 318h1v4h-1zM171 322h8v1h-8zM175 323h1v1h-1zM174 324h2v3h-2zM174 327h1v1h-1zM170 328h8v1h-8zM174 329h1v1h-1zM173 330h2v3h-2zM173 333h1v1h-1zM169 334h8v1h-8zM173 335h1v1h-1zM172 336h2v3h-2zM172 339h1v1h-1zM168 340h8v1h-8zM172 341h1v1h-1zM171 342h2v3h-2zM171 345h1v1h-1zM167 346h8v1h-8zM171 347h1v2h-1zM170 349h2v2h-2zM170 351h1v2h-1zM166 353h8v1h-8zM170 354h1v4h-1zM168 355h1v4h-1zM164 359h8v1h-8zM168 360h1v1h-1zM167 361h2v3h-2zM167 364h1v1h-1zM163 365h8v1h-8zM167 366h1v2h-1zM166 368h2v2h-2zM166 370h1v2h-1zM162 372h8v1h-8zM166 373h1v2h-1zM165 375h2v2h-2zM165 377h1v2h-1zM161 379h8v1h-8zM165 380h1v1h-1zM164 381h2v3h-2zM164 384h1v1h-1zM160 385h8v1h-8zM164 386h1v2h-1zM163 388h2v2h-2zM163 390h1v2h-1zM159 392h8v1h-8zM163 393h1v4h-1zM161 395h1v4h-1zM157 399h8v1h-8zM161 400h1v2h-1zM160 402h2v2h-2zM160 404h1v2h-1zM156 406h8v1h-8zM160 407h1v2h-1zM159 409h2v2h-2zM159 411h1v2h-1zM155 413h8v1h-8zM159 414h1v2h-1zM158 416h2v2h-2zM158 418h1v2h-1zM154 420h8v1h-8zM158 421h1v2h-1zM157 423h2v2h-2zM157 425h1v2h-1zM153 427h8v1h-8zM157 428h1v2h-1zM156 430h2v2h-2zM156 432h1v2h-1zM152 434h8v1h-8zM156 435h1v4h-1zM154 438h1v4h-1zM150 442h8v1h-8zM154 443h1v3h-1zM153 446h2v1h-2zM153 447h1v3h-1zM149 450h8v1h-8zM153 451h1v1h-1zM152 452h2v3h-2zM152 455h1v1h-1zM148 456h8v1h-8zM152 457h1v1h-1zM151 458h2v3h-2zM151 461h1v1h-1zM147 462h7v1h-7zM151 463h1v1h-1zM150 464h2v3h-2zM150 467h1v1h-1zM146 468h7v1h-7zM150 469h1v1h-1zM149 470h2v3h-2zM149 473h1v1h-1zM145 474h7v1h-7zM149 475h1v4h-1zM147 477h1v4h-1zM143 481h8v1h-8zM147 482h1v1h-1zM146 483h2v3h-2zM146 486h1v1h-1zM142 487h8v1h-8zM146 488h1v1h-1zM145 489h2v3h-2zM145 492h1v1h-1zM141 493h6v1h-6zM145 494h1v2h-1zM144 496h2v2h-2zM144 498h1v2h-1zM140 500h6v1h-6zM147 500h1v1h-1zM144 501h1v1h-1zM143 502h2v3h-2zM143 505h1v1h-1zM139 506h6v1h-6zM146 506h1v1h-1zM142 507h2v4h-2zM138 511h5v1h-5zM142 512h1v1h-1zM141 513h2v2h-2zM141 515h1v2h-1zM137 517h5v1h-5zM143 517h1v1h-1zM139 518h1v4h-1zM141 518h1v1h-1zM141 521h1v1h-1zM135 522h4v1h-4zM138 523h1v3h-1zM134 526h4v1h-4zM137 527h1v2h-1zM133 530h4v1h-4zM140 530h1v1h-1zM136 531h1v1h-1zM135 533h1v1h-1zM132 534h4v1h-4zM134 536h1v1h-1zM131 537h2v1h-2zM132 538h1v2h-1zM136 538h1v1h-1zM134 539h1v1h-1zM130 540h2v2h-2zM135 541h1v1h-1zM128 542h3v1h-3zM129 543h2v1h-2zM127 544h3v1h-3zM126 545h3v1h-3zM125 546h1v1h-1zM127 546h1v1h-1zM123 547h2v1h-2zM120 548h4v1h-4zM120 549h1v1h-1zM116 552h2v1h-2zM120 556h3v1h-3z"/>
<path fill="#8CD942" d="M785 118h27v1h-27zM758 119h54v1h-54zM733 120h79v1h-79zM710 121h102v1h-102zM688 122h124v1h-124zM667 123h145v1h-145zM646 124h144v1h-144zM626 125h137v1h-137zM609 126h129v1h-129zM592 127h122v1h-122zM577 128h115v1h-115zM563 129h109v1h-109zM550 130h101v1h-101zM540 131h91v1h-91zM530 132h83v1h-83zM519 133h78v1h-78zM510 134h72v1h-72zM499 135h69v1h-69zM490 136h65v1h-65zM481 137h64v1h-64zM473 138h61v1h-61zM463 139h61v1h-61zM455 140h60v1h-60zM447 141h57v1h-57zM439 142h56v1h-56zM432 143h54v1h-54zM425 144h52v1h-52zM418 145h50v1h-50zM412 146h48v1h-48zM406 147h46v1h-46zM401 148h43v1h-43zM395 149h42v1h-42zM389 150h41v1h-41zM384 151h39v1h-39zM380 152h37v1h-37zM375 153h36v1h-36zM370 154h35v1h-35zM366 155h34v1h-34zM362 156h32v1h-32zM358 157h31v1h-31zM354 158h31v1h-31zM351 159h29v1h-29zM347 160h28v1h-28zM344 161h27v1h-27zM341 162h26v1h-26zM338 163h24v1h-24zM336 164h23v1h-23zM332 165h23v1h-23zM329 166h23v1h-23zM325 167h24v1h-24zM322 168h24v1h-24zM319 169h24v1h-24zM316 170h24v1h-24zM313 171h24v1h-24zM311 172h22v1h-22zM309 173h21v1h-21zM306 174h20v1h-20zM304 175h20v1h-20zM303 176h18v1h-18zM301 177h17v1h-17zM298 178h18v1h-18zM297 179h17v1h-17zM295 180h16v1h-16zM294 181h15v1h-15zM291 182h17v1h-17zM290 183h16v1h-16zM288 184h15v1h-15zM287 185h15v1h-15zM284 186h16v1h-16zM283 187h16v1h-16zM281 188h15v1h-15zM280 189h15v1h-15zM279 190h14v1h-14zM276 191h16v1h-16zM275 192h14v1h-14zM274 193h14v1h-14zM273 194h13v1h-13zM270 195h15v1h-15zM269 196h14v1h-14zM268 197h13v1h-13zM267 198h13v1h-13zM266 199h13v1h-13zM265 200h13v1h-13zM264 201h11v1h-11zM262 202h12v1h-12zM261 203h12v1h-12zM260 204h12v1h-12zM259 205h12v1h-12zM258 206h12v1h-12zM257 207h11v1h-11zM255 208h12v1h-12zM254 209h12v1h-12zM253 210h12v1h-12zM252 211h12v1h-12zM251 212h12v1h-12zM250 213h11v1h-11zM248 214h12v1h-12zM248 215h11v1h-11zM247 216h11v1h-11zM246 217h11v1h-11zM245 218h11v1h-11zM244 219h10v1h-10zM244 220h9v1h-9zM243 221h10v1h-10zM241 222h11v1h-11zM240 223h11v1h-11zM240 224h2v1h-2zM243 224h7v1h-7zM239 225h10v1h-10zM238 226h11v1h-11zM237 227h10v1h-10zM237 228h9v1h-9zM236 229h9v1h-9zM234 230h11v1h-11zM234 231h10v1h-10zM233 232h10v1h-10zM233 233h2v1h-2zM236 233h6v1h-6zM232 234h10v1h-10zM231 235h9v1h-9zM231 236h8v1h-8zM230 237h9v1h-9zM230 238h8v1h-8zM229 239h9v1h-9zM229 240h8v1h-8zM227 241h6v1h-6zM234 241h2v1h-2zM226 242h10v1h-10zM226 243h2v1h-2zM229 243h6v1h-6zM225 244h10v1h-10zM225 245h8v1h-8zM224 246h9v1h-9zM224 247h8v1h-8zM223 248h8v2h-8zM222 250h8v2h-8zM221 252h8v2h-8zM219 254h6v1h-6zM226 254h2v1h-2zM219 255h9v1h-9zM218 256h9v1h-9zM218 257h2v1h-2zM221 257h6v1h-6zM217 258h8v2h-8zM216 260h8v2h-8zM215 262h8v2h-8zM214 264h8v2h-8zM214 266h4v1h-4zM219 266h2v1h-2zM212 267h9v1h-9zM212 268h8v1h-8zM211 269h9v1h-9zM211 270h2v1h-2zM214 270h4v1h-4zM210 271h8v2h-8zM210 273h4v1h-4zM215 273h2v1h-2zM209 274h8v1h-8zM209 275h3v1h-3zM213 275h3v1h-3zM208 276h8v1h-8zM208 277h2v1h-2zM211 277h4v1h-4zM208 278h4v1h-4zM213 278h2v1h-2zM207 279h8v1h-8zM207 280h3v1h-3zM211 280h3v1h-3zM207 281h7v1h-7zM205 282h6v1h-6zM212 282h1v1h-1zM205 283h8v1h-8zM205 284h1v1h-1zM207 284h6v1h-6zM204 285h7v1h-7zM204 286h3v1h-3zM208 286h3v1h-3zM204 287h7v1h-7zM203 288h7v1h-7zM203 289h3v1h-3zM207 289h3v1h-3zM203 290h7v1h-7zM202 291h7v1h-7zM202 292h3v1h-3zM206 292h3v1h-3zM202 293h7v1h-7zM201 294h7v1h-7zM201 295h3v1h-3zM205 295h3v1h-3zM201 296h7v1h-7zM200 297h7v1h-7zM200 298h3v1h-3zM204 298h3v1h-3zM200 299h7v1h-7zM200 300h1v1h-1zM202 300h2v1h-2zM205 300h1v1h-1zM198 301h8v2h-8zM198 303h1v1h-1zM200 303h2v1h-2zM203 303h1v1h-1zM197 304h7v1h-7zM197 305h3v1h-3zM201 305h3v1h-3zM197 306h7v1h-7zM196 307h7v1h-7zM196 308h3v1h-3zM200 308h3v1h-3zM196 309h7v1h-7zM196 310h1v1h-1zM198 310h2v1h-2zM201 310h1v1h-1zM195 311h7v2h-7zM195 313h1v1h-1zM197 313h2v1h-2zM200 313h1v1h-1zM194 314h7v1h-7zM194 315h3v1h-3zM198 315h3v1h-3zM194 316h7v1h-7zM193 317h7v1h-7zM193 318h3v1h-3zM197 318h3v1h-3zM193 319h7v1h-7zM193 320h1v1h-1zM195 320h2v1h-2zM198 320h1v1h-1zM191 321h8v2h-8zM191 323h1v1h-1zM193 323h2v1h-2zM196 323h1v1h-1zM190 324h7v1h-7zM190 325h3v1h-3zM194 325h3v1h-3zM190 326h7v1h-7zM189 327h7v1h-7zM189 328h3v1h-3zM193 328h3v1h-3zM189 329h7v1h-7zM189 330h1v1h-1zM191 330h2v1h-2zM194 330h1v1h-1zM188 331h7v2h-7zM188 333h1v2h-1zM190 333h2v2h-2zM193 333h1v2h-1zM187 335h7v2h-7zM187 337h1v2h-1zM189 337h2v2h-2zM192 337h1v2h-1zM186 339h7v2h-7zM186 341h1v2h-1zM188 341h2v2h-2zM191 341h1v2h-1zM184 343h8v2h-8zM184 345h1v2h-1zM186 345h2v2h-2zM189 345h1v2h-1zM183 347h7v2h-7zM183 349h1v2h-1zM185 349h2v2h-2zM188 349h1v2h-1zM182 351h7v2h-7zM182 353h1v2h-1zM184 353h2v2h-2zM187 353h1v2h-1zM181 355h7v2h-7zM181 357h1v2h-1zM183 357h2v2h-2zM186 357h1v2h-1zM180 359h7v2h-7zM180 361h1v2h-1zM182 361h2v2h-2zM185 361h1v2h-1zM179 363h7v2h-7zM179 365h1v2h-1zM181 365h2v2h-2zM184 365h1v2h-1zM179 367h2v1h-2zM183 367h2v1h-2zM178 368h7v1h-7zM178 369h2v1h-2zM182 369h2v1h-2zM178 370h1v2h-1zM180 370h2v2h-2zM183 370h1v2h-1zM176 372h8v2h-8zM176 374h1v2h-1zM178 374h2v2h-2zM181 374h1v2h-1zM175 376h7v2h-7zM175 378h1v2h-1zM177 378h2v2h-2zM180 378h1v2h-1zM174 380h7v2h-7zM174 382h1v2h-1zM176 382h2v2h-2zM179 382h1v2h-1zM174 384h2v1h-2zM178 384h2v1h-2zM173 385h7v1h-7zM173 386h2v1h-2zM177 386h2v1h-2zM173 387h1v2h-1zM175 387h2v2h-2zM178 387h1v2h-1zM172 389h7v2h-7zM172 391h1v2h-1zM174 391h2v2h-2zM177 391h1v2h-1zM172 393h2v1h-2zM176 393h2v1h-2zM171 394h7v1h-7zM171 395h2v1h-2zM175 395h2v1h-2zM171 396h1v2h-1zM173 396h2v2h-2zM176 396h1v2h-1zM171 398h2v1h-2zM175 398h2v1h-2zM169 399h8v1h-8zM169 400h2v1h-2zM173 400h2v1h-2zM169 401h1v2h-1zM171 401h2v2h-2zM174 401h1v2h-1zM169 403h2v1h-2zM173 403h2v1h-2zM168 404h7v1h-7zM168 405h2v1h-2zM172 405h2v1h-2zM168 406h1v2h-1zM170 406h2v2h-2zM173 406h1v2h-1zM167 408h7v2h-7zM167 410h1v2h-1zM169 410h2v2h-2zM172 410h1v2h-1zM167 412h2v1h-2zM171 412h2v1h-2zM166 413h7v1h-7zM166 414h2v1h-2zM170 414h2v1h-2zM166 415h1v2h-1zM168 415h2v2h-2zM171 415h1v2h-1zM166 417h2v1h-2zM170 417h2v1h-2zM165 418h7v1h-7zM165 419h2v1h-2zM169 419h2v1h-2zM165 420h1v2h-1zM167 420h2v2h-2zM170 420h1v2h-1zM165 422h2v1h-2zM169 422h2v1h-2zM164 423h7v1h-7zM164 424h2v1h-2zM168 424h2v1h-2zM164 425h1v2h-1zM166 425h2v2h-2zM169 425h1v2h-1zM164 427h2v1h-2zM168 427h2v1h-2zM162 428h8v1h-8zM162 429h2v1h-2zM166 429h2v1h-2zM162 430h1v2h-1zM164 430h2v2h-2zM167 430h1v2h-1zM162 432h2v1h-2zM166 432h2v1h-2zM161 433h7v1h-7zM161 434h2v1h-2zM165 434h2v1h-2zM161 435h1v2h-1zM163 435h2v2h-2zM166 435h1v2h-1zM161 437h2v1h-2zM165 437h2v1h-2zM160 438h7v1h-7zM160 439h2v1h-2zM164 439h2v1h-2zM160 440h1v2h-1zM162 440h2v2h-2zM165 440h1v2h-1zM160 442h2v1h-2zM164 442h2v1h-2zM159 443h7v1h-7zM159 444h2v1h-2zM163 444h2v1h-2zM159 445h1v2h-1zM161 445h2v2h-2zM164 445h1v2h-1zM159 447h2v1h-2zM163 447h2v1h-2zM158 448h7v1h-7zM158 449h2v1h-2zM162 449h2v1h-2zM158 450h1v2h-1zM160 450h2v2h-2zM163 450h1v2h-1zM158 452h2v1h-2zM162 452h2v1h-2zM157 453h7v1h-7zM157 454h2v1h-2zM161 454h2v1h-2zM157 455h1v2h-1zM159 455h2v2h-2zM162 455h1v2h-1zM155 457h8v2h-8zM155 459h1v2h-1zM157 459h2v2h-2zM160 459h1v2h-1zM155 461h2v1h-2zM159 461h2v1h-2zM154 462h7v1h-7zM154 463h2v1h-2zM158 463h2v1h-2zM154 464h1v2h-1zM156 464h2v2h-2zM159 464h1v2h-1zM154 466h2v1h-2zM158 466h2v1h-2zM153 467h7v1h-7zM153 468h2v1h-2zM157 468h2v1h-2zM153 469h1v2h-1zM155 469h2v2h-2zM158 469h1v2h-1zM153 471h2v1h-2zM157 471h2v1h-2zM152 472h7v1h-7zM152 473h2v1h-2zM156 473h2v1h-2zM152 474h1v2h-1zM154 474h2v2h-2zM157 474h1v2h-1zM152 476h2v1h-2zM156 476h2v1h-2zM151 477h7v1h-7zM151 478h2v1h-2zM155 478h2v1h-2zM151 479h1v2h-1zM153 479h2v2h-2zM156 479h1v2h-1zM151 481h2v1h-2zM155 481h2v1h-2zM151 482h6v1h-6zM150 483h6v1h-6zM150 484h2v1h-2zM154 484h2v1h-2zM150 485h1v2h-1zM152 485h2v2h-2zM155 485h1v2h-1zM150 487h2v1h-2zM154 487h2v1h-2zM148 488h8v1h-8zM148 489h2v1h-2zM152 489h2v1h-2zM148 490h1v2h-1zM150 490h2v2h-2zM153 490h1v2h-1zM148 492h2v1h-2zM152 492h2v1h-2zM147 493h7v1h-7zM147 494h2v1h-2zM151 494h2v1h-2zM147 495h1v2h-1zM149 495h2v2h-2zM152 495h1v2h-1zM147 497h2v1h-2zM151 497h2v1h-2zM146 498h7v1h-7zM146 499h2v1h-2zM150 499h2v1h-2zM146 500h1v2h-1zM148 500h2v2h-2zM151 500h1v2h-1zM146 502h2v1h-2zM150 502h2v1h-2zM145 503h7v1h-7zM145 504h2v1h-2zM149 504h2v1h-2zM145 505h1v2h-1zM147 505h2v2h-2zM150 505h1v2h-1zM144 507h7v2h-7zM144 509h1v2h-1zM146 509h2v2h-2zM149 509h1v2h-1zM143 511h7v2h-7zM143 513h1v2h-1zM145 513h2v2h-2zM148 513h1v2h-1zM142 515h7v2h-7zM142 517h1v2h-1zM144 517h2v2h-2zM147 517h1v2h-1zM140 519h8v2h-8zM140 521h1v1h-1zM142 521h2v1h-2zM145 521h1v1h-1zM139 522h7v1h-7zM139 523h3v1h-3zM143 523h3v1h-3zM139 524h7v1h-7zM139 525h1v1h-1zM141 525h2v1h-2zM144 525h1v1h-1zM138 526h7v2h-7zM138 528h1v1h-1zM140 528h2v1h-2zM143 528h1v1h-1zM137 529h7v1h-7zM137 530h3v1h-3zM141 530h3v1h-3zM137 531h7v1h-7zM136 532h7v1h-7zM136 533h3v1h-3zM140 533h3v1h-3zM136 534h7v1h-7zM135 535h7v1h-7zM135 536h3v1h-3zM139 536h3v1h-3zM133 537h9v1h-9zM133 538h3v1h-3zM137 538h2v1h-2zM140 538h1v1h-1zM133 539h1v1h-1zM135 539h2v1h-2zM138 539h3v1h-3zM132 540h9v1h-9zM132 541h3v1h-3zM136 541h3v1h-3zM131 542h8v1h-8zM131 543h2v1h-2zM134 543h4v1h-4zM130 544h8v1h-8zM129 545h9v1h-9zM128 546h9v1h-9zM125 547h12v1h-12zM124 548h12v1h-12zM121 549h15v1h-15zM118 550h17v1h-17zM118 551h16v1h-16zM118 552h14v1h-14zM118 553h12v1h-12zM118 554h11v1h-11zM118 555h7v1h-7z"/>
</g>
</g>
<g id="main-frame" fill="#000" shape-rendering="crispEdges">
<rect x="203" y="39" width="5" height="1551.7"/>
<rect x="203" y="39" width="1939.5" height="5"/>
<rect x="2135" y="39" width="7.5" height="1551.7"/>
<rect x="203" y="1582" width="1939.5" height="8.7"/>
</g>
<g id="main-ticks" fill="#333" shape-rendering="crispEdges">
<rect x="193" y="1517" width="10" height="3"/>
<rect x="193" y="1047" width="10" height="3"/>
<rect x="193" y="576" width="10" height="3"/>
<rect x="193" y="106" width="10" height="3"/>
<rect x="291.6" y="1590" width="2.5" height="9"/>
<rect x="586.5" y="1590" width="2.5" height="9"/>
<rect x="881.5" y="1590" width="2.5" height="9"/>
<rect x="1176.4" y="1590" width="2.5" height="9"/>
<rect x="1471.3" y="1590" width="2.5" height="9"/>
<rect x="1766.3" y="1590" width="2.5" height="9"/>
<rect x="2061.2" y="1590" width="2.5" height="9"/>
</g>
<g id="main-labels">
<text id="my0" transform="translate(184,1541.0) scale(0.96,1.0)" font-size="51" fill="#4D4D4D" text-anchor="end" stroke="#4D4D4D" stroke-width="0.3">0%</text>
<text id="my1" transform="translate(184,1070.8) scale(0.96,1.0)" font-size="51" fill="#4D4D4D" text-anchor="end" stroke="#4D4D4D" stroke-width="0.3">20%</text>
<text id="my2" transform="translate(184,600.6) scale(0.96,1.0)" font-size="51" fill="#4D4D4D" text-anchor="end" stroke="#4D4D4D" stroke-width="0.3">40%</text>
<text id="my3" transform="translate(184,130.4) scale(0.96,1.0)" font-size="51" fill="#4D4D4D" text-anchor="end" stroke="#4D4D4D" stroke-width="0.3">60%</text>
<text id="mx0" transform="translate(291.1,1648.8) scale(0.96,1.0)" font-size="51" fill="#4D4D4D" text-anchor="middle" stroke="#4D4D4D" stroke-width="0.3">0</text>
<text id="mx1" transform="translate(586.0,1648.8) scale(0.96,1.0)" font-size="51" fill="#4D4D4D" text-anchor="middle" stroke="#4D4D4D" stroke-width="0.3">10</text>
<text id="mx2" transform="translate(881.0,1648.8) scale(0.96,1.0)" font-size="51" fill="#4D4D4D" text-anchor="middle" stroke="#4D4D4D" stroke-width="0.3">20</text>
<text id="mx3" transform="translate(1175.9,1648.8) scale(0.96,1.0)" font-size="51" fill="#4D4D4D" text-anchor="middle" stroke="#4D4D4D" stroke-width="0.3">30</text>
<text id="mx4" transform="translate(1470.9,1648.8) scale(0.96,1.0)" font-size="51" fill="#4D4D4D" text-anchor="middle" stroke="#4D4D4D" stroke-width="0.3">40</text>
<text id="mx5" transform="translate(1765.8,1648.8) scale(0.96,1.0)" font-size="51" fill="#4D4D4D" text-anchor="middle" stroke="#4D4D4D" stroke-width="0.3">50</text>
<text id="mx6" transform="translate(2060.8,1648.8) scale(0.96,1.0)" font-size="51" fill="#4D4D4D" text-anchor="middle" stroke="#4D4D4D" stroke-width="0.3">60</text>
<text id="mxt" transform="translate(1171.5,1718.6) scale(0.975,1.0)" font-size="63.5" fill="#000" text-anchor="middle">Time[s]</text>
<text id="myt" transform="translate(68.6,814.3) rotate(-90) scale(1.02,1.0)" font-size="63.5" fill="#000" text-anchor="middle">Conversion</text>
</g>
<g id="inset">
<rect x="892" y="545" width="942" height="854" fill="#fff"/>
<defs><filter id="b1" x="-5%" y="-5%" width="110%" height="110%"><feGaussianBlur stdDeviation="0.8"/></filter><filter id="b2" x="-10%" y="-10%" width="120%" height="120%"><feGaussianBlur stdDeviation="0.55"/></filter></defs>
<g id="inset-series" opacity="1.0" filter="url(#b1)">
<path d="M978.7,1361.1h0M987.3,1361h0M995.8,1360.8h0M1004.3,1360.6h0M1012.9,1360.2h0M1021.4,1359.8h0M1030,1359.3h0M1038.5,1358.5h0M1047,1357.4h0M1055.6,1356.1h0M1064.1,1354.6h0M1072.6,1352.4h0M1081.2,1349.2h0M1089.7,1345.5h0M1098.3,1341.7h0M1106.8,1338h0M1115.3,1334.2h0M1123.9,1330.3h0M1132.4,1326.1h0M1140.9,1321.7h0M1149.5,1317h0M1158,1311.8h0M1166.6,1306.2h0M1175.1,1299.8h0M1183.6,1292.3h0M1192.2,1284.1h0M1200.7,1275.3h0M1209.2,1266.1h0M1217.8,1256.7h0M1226.3,1247.4h0M1234.9,1238.3h0M1243.4,1229.3h0M1251.9,1220.1h0M1260.5,1210.8h0M1269,1201.3h0M1277.5,1191.8h0M1286.1,1182.3h0M1294.6,1172.8h0M1303.1,1163.2h0M1311.7,1153.5h0M1320.2,1143.8h0M1328.8,1134.2h0M1337.3,1124.8h0M1345.8,1115.5h0M1354.4,1106.4h0M1362.9,1097.5h0M1371.4,1088.5h0M1380,1079.6h0M1388.5,1070.5h0M1397.1,1061.4h0M1405.6,1052.5h0M1414.1,1044.1h0M1422.7,1036h0M1431.2,1028.1h0M1439.7,1020.3h0M1448.3,1012.7h0M1456.8,1005.3h0M1465.4,998.1h0M1473.9,991.2h0M1482.4,984.4h0M1491,978h0M1499.5,971.7h0M1508,965.4h0M1516.6,959.3h0M1525.1,953.3h0M1533.7,947.3h0M1542.2,941.5h0M1550.7,935.8h0M1559.3,930.1h0M1567.8,924.6h0M1576.3,919.2h0M1584.9,914h0M1593.4,908.9h0M1602,903.9h0M1610.5,899.1h0M1619,894.4h0M1627.6,889.9h0M1636.1,885.5h0M1644.6,881.3h0M1653.2,877.2h0M1661.7,873.2h0M1670.3,869.3h0M1678.8,865.5h0M1687.3,861.7h0M1695.9,858.1h0M1704.4,854.5h0M1712.9,851h0M1721.5,847.6h0M1730,844.3h0M1738.6,841.1h0M1747.1,837.9h0M1755.6,834.9h0M1764.2,831.9h0M1772.7,829h0M1781.2,826.1h0M1789.8,823.4h0" fill="none" stroke="#00C1A1" stroke-width="5.6" stroke-linecap="round"/>
<path d="M978.7,1357.2l3.4,5.8h-6.8zM987.3,1357.2l3.4,5.8h-6.8zM995.8,1357.1l3.4,5.8h-6.8zM1004.3,1356.9l3.4,5.8h-6.8zM1012.9,1356.8l3.4,5.8h-6.8zM1021.4,1356.6l3.4,5.8h-6.8zM1030,1356.3l3.4,5.8h-6.8zM1038.5,1355.9l3.4,5.8h-6.8zM1047,1355.4l3.4,5.8h-6.8zM1055.6,1354.8l3.4,5.8h-6.8zM1064.1,1354l3.4,5.8h-6.8zM1072.6,1352.4l3.4,5.8h-6.8zM1081.2,1349.7l3.4,5.8h-6.8zM1089.7,1346.5l3.4,5.8h-6.8zM1098.3,1343.1l3.4,5.8h-6.8zM1106.8,1339.7l3.4,5.8h-6.8zM1115.3,1336l3.4,5.8h-6.8zM1123.9,1332l3.4,5.8h-6.8zM1132.4,1327.8l3.4,5.8h-6.8zM1140.9,1323.3l3.4,5.8h-6.8zM1149.5,1318.6l3.4,5.8h-6.8zM1158,1313.8l3.4,5.8h-6.8zM1166.6,1308.9l3.4,5.8h-6.8zM1175.1,1303.8l3.4,5.8h-6.8zM1183.6,1298.4l3.4,5.8h-6.8zM1192.2,1292.7l3.4,5.8h-6.8zM1200.7,1286.9l3.4,5.8h-6.8zM1209.2,1280.8l3.4,5.8h-6.8zM1217.8,1274.5l3.4,5.8h-6.8zM1226.3,1268.1l3.4,5.8h-6.8zM1234.9,1261.5l3.4,5.8h-6.8zM1243.4,1254.5l3.4,5.8h-6.8zM1251.9,1247.1l3.4,5.8h-6.8zM1260.5,1239.4l3.4,5.8h-6.8zM1269,1231.5l3.4,5.8h-6.8zM1277.5,1223.6l3.4,5.8h-6.8zM1286.1,1215.7l3.4,5.8h-6.8zM1294.6,1208.1l3.4,5.8h-6.8zM1303.1,1200.6l3.4,5.8h-6.8zM1311.7,1193l3.4,5.8h-6.8zM1320.2,1185.5l3.4,5.8h-6.8zM1328.8,1178l3.4,5.8h-6.8zM1337.3,1170.5l3.4,5.8h-6.8zM1345.8,1163.1l3.4,5.8h-6.8zM1354.4,1155.7l3.4,5.8h-6.8zM1362.9,1148.4l3.4,5.8h-6.8zM1371.4,1141.2l3.4,5.8h-6.8zM1380,1134l3.4,5.8h-6.8zM1388.5,1127l3.4,5.8h-6.8zM1397.1,1120.1l3.4,5.8h-6.8zM1405.6,1113.2l3.4,5.8h-6.8zM1414.1,1106.4l3.4,5.8h-6.8zM1422.7,1099.7l3.4,5.8h-6.8zM1431.2,1093l3.4,5.8h-6.8zM1439.7,1086.3l3.4,5.8h-6.8zM1448.3,1079.6l3.4,5.8h-6.8zM1456.8,1072.9l3.4,5.8h-6.8zM1465.4,1066.1l3.4,5.8h-6.8zM1473.9,1059.2l3.4,5.8h-6.8zM1482.4,1052.5l3.4,5.8h-6.8zM1491,1046.1l3.4,5.8h-6.8zM1499.5,1040l3.4,5.8h-6.8zM1508,1034.2l3.4,5.8h-6.8zM1516.6,1028.6l3.4,5.8h-6.8zM1525.1,1023l3.4,5.8h-6.8zM1533.7,1017.6l3.4,5.8h-6.8zM1542.2,1012.1l3.4,5.8h-6.8zM1550.7,1006.7l3.4,5.8h-6.8zM1559.3,1001.2l3.4,5.8h-6.8zM1567.8,995.5l3.4,5.8h-6.8zM1576.3,989.7l3.4,5.8h-6.8zM1584.9,984l3.4,5.8h-6.8zM1593.4,978.3l3.4,5.8h-6.8zM1602,972.7l3.4,5.8h-6.8zM1610.5,967.4l3.4,5.8h-6.8zM1619,962.3l3.4,5.8h-6.8zM1627.6,957.5l3.4,5.8h-6.8zM1636.1,953.2l3.4,5.8h-6.8zM1644.6,949.3l3.4,5.8h-6.8zM1653.2,945.6l3.4,5.8h-6.8zM1661.7,942.1l3.4,5.8h-6.8zM1670.3,938.7l3.4,5.8h-6.8zM1678.8,935.4l3.4,5.8h-6.8zM1687.3,932.3l3.4,5.8h-6.8zM1695.9,929.3l3.4,5.8h-6.8zM1704.4,926.4l3.4,5.8h-6.8zM1712.9,923.5l3.4,5.8h-6.8zM1721.5,920.8l3.4,5.8h-6.8zM1730,918l3.4,5.8h-6.8zM1738.6,915.3l3.4,5.8h-6.8zM1747.1,912.7l3.4,5.8h-6.8zM1755.6,910l3.4,5.8h-6.8zM1764.2,907.3l3.4,5.8h-6.8zM1772.7,904.6l3.4,5.8h-6.8zM1781.2,901.9l3.4,5.8h-6.8zM1789.8,899.1l3.4,5.8h-6.8z" fill="#FF8A5C" stroke="none"/>
<path d="M978.7,1361.1h0M987.3,1361h0M995.8,1360.8h0M1004.3,1360.6h0M1012.9,1360.2h0M1021.4,1359.8h0M1030,1359.2h0M1038.5,1358.4h0M1047,1357.3h0M1055.6,1356h0M1064.1,1354.5h0M1072.6,1352.2h0M1081.2,1349h0M1089.7,1345.2h0M1098.3,1341.4h0M1106.8,1337.4h0M1115.3,1333.2h0M1123.9,1328.6h0M1132.4,1323.9h0M1140.9,1318.9h0M1149.5,1313.7h0M1158,1308.3h0M1166.6,1302.9h0M1175.1,1297.2h0M1183.6,1291.1h0M1192.2,1284.8h0M1200.7,1278.3h0M1209.2,1271.6h0M1217.8,1264.8h0M1226.3,1257.9h0M1234.9,1251.1h0M1243.4,1244.2h0M1251.9,1237.1h0M1260.5,1229.9h0M1269,1222.6h0M1277.5,1215.3h0M1286.1,1208h0M1294.6,1200.7h0M1303.1,1193.4h0M1311.7,1186h0M1320.2,1178.5h0M1328.8,1171h0M1337.3,1163.5h0M1345.8,1156h0M1354.4,1148.6h0M1362.9,1141.3h0M1371.4,1134.1h0M1380,1127.1h0M1388.5,1120.2h0M1397.1,1113.4h0M1405.6,1106.7h0M1414.1,1100.1h0M1422.7,1093.6h0M1431.2,1087.1h0M1439.7,1080.8h0M1448.3,1074.5h0M1456.8,1068.3h0M1465.4,1062.2h0M1473.9,1056.2h0M1482.4,1050.3h0M1491,1044.4h0M1499.5,1038.5h0M1508,1032.7h0M1516.6,1026.9h0M1525.1,1021.1h0M1533.7,1015.5h0M1542.2,1009.9h0M1550.7,1004.5h0M1559.3,998.9h0M1567.8,993.3h0M1576.3,987.8h0M1584.9,982.3h0M1593.4,976.9h0M1602,971.6h0M1610.5,966.6h0M1619,961.8h0M1627.6,957.3h0M1636.1,953.1h0M1644.6,949.2h0M1653.2,945.5h0M1661.7,941.9h0M1670.3,938.5h0M1678.8,935.2h0M1687.3,932h0M1695.9,929h0M1704.4,926h0M1712.9,923h0M1721.5,920.2h0M1730,917.4h0M1738.6,914.6h0M1747.1,911.8h0M1755.6,909.1h0M1764.2,906.3h0M1772.7,903.6h0M1781.2,900.7h0M1789.8,897.9h0" fill="none" stroke="#86A0D0" stroke-width="5.8" stroke-linecap="square"/>
<path d="M964.9,1360.8h10.6M970.2,1355v11.7M973.4,1360.5h10.6M978.7,1354.7v11.7M982,1359.9h10.6M987.3,1354v11.7M990.5,1359h10.6M995.8,1353.2v11.7M999,1358h10.6M1004.3,1352.2v11.7M1007.6,1356.9h10.6M1012.9,1351v11.7M1016.1,1355.4h10.6M1021.4,1349.6v11.7M1024.6,1353.7h10.6M1029.9,1347.8v11.7M1033.2,1351.5h10.6M1038.5,1345.7v11.7M1041.7,1349.2h10.6M1047,1343.3v11.7M1050.3,1346.5h10.6M1055.6,1340.7v11.7M1058.8,1343.7h10.6M1064.1,1337.9v11.7M1067.3,1340.2h10.6M1072.6,1334.4v11.7M1075.9,1336h10.6M1081.2,1330.2v11.7M1084.4,1330.9h10.6M1089.7,1325.1v11.7M1092.9,1325.4h10.6M1098.2,1319.5v11.7M1101.5,1320.2h10.6M1106.8,1314.4v11.7M1110,1314.6h10.6M1115.3,1308.7v11.7M1118.6,1307h10.6M1123.9,1301.2v11.7M1127.1,1298.5h10.6M1132.4,1292.7v11.7M1135.6,1290.5h10.6M1140.9,1284.7v11.7M1144.2,1282.1h10.6M1149.5,1276.3v11.7M1152.7,1272.7h10.6M1158,1266.9v11.7M1161.2,1262.9h10.6M1166.5,1257.1v11.7M1169.8,1253.3h10.6M1175.1,1247.5v11.7M1178.3,1243.8h10.6M1183.6,1238v11.7M1186.9,1234.6h10.6M1192.2,1228.7v11.7M1195.4,1225.3h10.6M1200.7,1219.5v11.7M1203.9,1215.9h10.6M1209.2,1210.1v11.7M1212.5,1206.1h10.6M1217.8,1200.2v11.7M1221,1194.7h10.6M1226.3,1188.9v11.7M1229.5,1182.9h10.6M1234.8,1177.1v11.7M1238.1,1171.9h10.6M1243.4,1166v11.7M1246.6,1161.1h10.6M1251.9,1155.3v11.7M1255.2,1150.5h10.6M1260.5,1144.7v11.7M1263.7,1140.1h10.6M1269,1134.3v11.7M1272.2,1129.7h10.6M1277.5,1123.8v11.7M1280.8,1119.2h10.6M1286.1,1113.4v11.7M1289.3,1108.7h10.6M1294.6,1102.9v11.7M1297.8,1098.7h10.6M1303.1,1092.8v11.7M1306.4,1088.7h10.6M1311.7,1082.8v11.7M1314.9,1078.8h10.6M1320.2,1072.9v11.7M1323.5,1069h10.6M1328.8,1063.1v11.7M1332,1059.3h10.6M1337.3,1053.4v11.7M1340.5,1049.7h10.6M1345.8,1043.9v11.7M1349.1,1040.4h10.6M1354.4,1034.6v11.7M1357.6,1031.2h10.6M1362.9,1025.4v11.7M1366.1,1022.3h10.6M1371.4,1016.5v11.7M1374.7,1013.6h10.6M1380,1007.8v11.7M1383.2,1005.2h10.6M1388.5,999.4v11.7M1391.8,997h10.6M1397.1,991.2v11.7M1400.3,988.9h10.6M1405.6,983.1v11.7M1408.8,980.9h10.6M1414.1,975.1v11.7M1417.4,973.1h10.6M1422.7,967.3v11.7M1425.9,965.4h10.6M1431.2,959.6v11.7M1434.4,958h10.6M1439.7,952.1v11.7M1443,950.7h10.6M1448.3,944.9v11.7M1451.5,943.7h10.6M1456.8,937.8v11.7M1460.1,936.9h10.6M1465.4,931.1v11.7M1468.6,930.4h10.6M1473.9,924.6v11.7M1477.1,924.2h10.6M1482.4,918.3v11.7M1485.7,918.2h10.6M1491,912.3v11.7M1494.2,912.3h10.6M1499.5,906.5v11.7M1502.7,906.5h10.6M1508,900.7v11.7M1511.3,900.9h10.6M1516.6,895.1v11.7M1519.8,895.4h10.6M1525.1,889.5v11.7M1528.3,890h10.6M1533.6,884.1v11.7M1536.9,884.7h10.6M1542.2,878.8v11.7M1545.4,879.5h10.6M1550.7,873.7v11.7M1554,874.4h10.6M1559.3,868.6v11.7M1562.5,869.5h10.6M1567.8,863.6v11.7M1571,864.6h10.6M1576.3,858.8v11.7M1579.6,859.9h10.6M1584.9,854.1v11.7M1588.1,855.3h10.6M1593.4,849.4v11.7M1596.6,850.8h10.6M1601.9,844.9v11.7M1605.2,846.4h10.6M1610.5,840.5v11.7M1613.7,842.1h10.6M1619,836.2v11.7M1622.3,837.9h10.6M1627.6,832v11.7M1630.8,833.8h10.6M1636.1,827.9v11.7M1639.3,829.8h10.6M1644.6,823.9v11.7M1647.9,825.8h10.6M1653.2,820v11.7M1656.4,822h10.6M1661.7,816.1v11.7M1664.9,818.2h10.6M1670.2,812.3v11.7M1673.5,814.4h10.6M1678.8,808.6v11.7M1682,810.8h10.6M1687.3,804.9v11.7M1690.6,807.2h10.6M1695.9,801.3v11.7M1699.1,803.6h10.6M1704.4,797.8v11.7M1707.6,800.2h10.6M1712.9,794.4v11.7M1716.2,796.8h10.6M1721.5,791v11.7M1724.7,793.6h10.6M1730,787.7v11.7M1733.2,790.4h10.6M1738.5,784.6v11.7M1741.8,787.3h10.6M1747.1,781.5v11.7M1750.3,784.3h10.6M1755.6,778.5v11.7M1758.9,781.4h10.6M1764.2,775.6v11.7M1767.4,778.6h10.6M1772.7,772.8v11.7M1775.9,775.9h10.6M1781.2,770.1v11.7M1784.5,773.4h10.6M1789.8,767.5v11.7" fill="none" stroke="#FF89C4" stroke-width="1.5"/>
<path d="M975.4,1357.8h6.6v6.6h-6.6zl6.6,6.6m0,-6.6l-6.6,6.6M984,1357.5h6.6v6.6h-6.6zl6.6,6.6m0,-6.6l-6.6,6.6M992.5,1357.1h6.6v6.6h-6.6zl6.6,6.6m0,-6.6l-6.6,6.6M1001,1356.6h6.6v6.6h-6.6zl6.6,6.6m0,-6.6l-6.6,6.6M1009.6,1355.9h6.6v6.6h-6.6zl6.6,6.6m0,-6.6l-6.6,6.6M1018.1,1355.1h6.6v6.6h-6.6zl6.6,6.6m0,-6.6l-6.6,6.6M1026.7,1354.2h6.6v6.6h-6.6zl6.6,6.6m0,-6.6l-6.6,6.6M1035.2,1353h6.6v6.6h-6.6zl6.6,6.6m0,-6.6l-6.6,6.6M1043.7,1351.7h6.6v6.6h-6.6zl6.6,6.6m0,-6.6l-6.6,6.6M1052.3,1350.1h6.6v6.6h-6.6zl6.6,6.6m0,-6.6l-6.6,6.6M1060.8,1348.3h6.6v6.6h-6.6zl6.6,6.6m0,-6.6l-6.6,6.6M1069.3,1345.6h6.6v6.6h-6.6zl6.6,6.6m0,-6.6l-6.6,6.6M1077.9,1341.8h6.6v6.6h-6.6zl6.6,6.6m0,-6.6l-6.6,6.6M1086.4,1337.6h6.6v6.6h-6.6zl6.6,6.6m0,-6.6l-6.6,6.6M1095,1333.2h6.6v6.6h-6.6zl6.6,6.6m0,-6.6l-6.6,6.6M1103.5,1328.8h6.6v6.6h-6.6zl6.6,6.6m0,-6.6l-6.6,6.6M1112,1324.2h6.6v6.6h-6.6zl6.6,6.6m0,-6.6l-6.6,6.6M1120.6,1319.3h6.6v6.6h-6.6zl6.6,6.6m0,-6.6l-6.6,6.6M1129.1,1314.3h6.6v6.6h-6.6zl6.6,6.6m0,-6.6l-6.6,6.6M1137.6,1309h6.6v6.6h-6.6zl6.6,6.6m0,-6.6l-6.6,6.6M1146.2,1303.5h6.6v6.6h-6.6zl6.6,6.6m0,-6.6l-6.6,6.6M1154.7,1297.7h6.6v6.6h-6.6zl6.6,6.6m0,-6.6l-6.6,6.6M1163.3,1291.8h6.6v6.6h-6.6zl6.6,6.6m0,-6.6l-6.6,6.6M1171.8,1285.4h6.6v6.6h-6.6zl6.6,6.6m0,-6.6l-6.6,6.6M1180.3,1278.5h6.6v6.6h-6.6zl6.6,6.6m0,-6.6l-6.6,6.6M1188.9,1271.3h6.6v6.6h-6.6zl6.6,6.6m0,-6.6l-6.6,6.6M1197.4,1263.8h6.6v6.6h-6.6zl6.6,6.6m0,-6.6l-6.6,6.6M1205.9,1256.2h6.6v6.6h-6.6zl6.6,6.6m0,-6.6l-6.6,6.6M1214.5,1248.5h6.6v6.6h-6.6zl6.6,6.6m0,-6.6l-6.6,6.6M1223,1240.9h6.6v6.6h-6.6zl6.6,6.6m0,-6.6l-6.6,6.6M1231.6,1233.5h6.6v6.6h-6.6zl6.6,6.6m0,-6.6l-6.6,6.6M1240.1,1226.1h6.6v6.6h-6.6zl6.6,6.6m0,-6.6l-6.6,6.6M1248.6,1218.7h6.6v6.6h-6.6zl6.6,6.6m0,-6.6l-6.6,6.6M1257.2,1211.3h6.6v6.6h-6.6zl6.6,6.6m0,-6.6l-6.6,6.6M1265.7,1203.9h6.6v6.6h-6.6zl6.6,6.6m0,-6.6l-6.6,6.6M1274.2,1196.5h6.6v6.6h-6.6zl6.6,6.6m0,-6.6l-6.6,6.6M1282.8,1189.1h6.6v6.6h-6.6zl6.6,6.6m0,-6.6l-6.6,6.6M1291.3,1181.7h6.6v6.6h-6.6zl6.6,6.6m0,-6.6l-6.6,6.6M1299.8,1174.3h6.6v6.6h-6.6zl6.6,6.6m0,-6.6l-6.6,6.6M1308.4,1166.9h6.6v6.6h-6.6zl6.6,6.6m0,-6.6l-6.6,6.6M1316.9,1159.4h6.6v6.6h-6.6zl6.6,6.6m0,-6.6l-6.6,6.6M1325.5,1151.9h6.6v6.6h-6.6zl6.6,6.6m0,-6.6l-6.6,6.6M1334,1144.5h6.6v6.6h-6.6zl6.6,6.6m0,-6.6l-6.6,6.6M1342.5,1137.1h6.6v6.6h-6.6zl6.6,6.6m0,-6.6l-6.6,6.6M1351.1,1129.7h6.6v6.6h-6.6zl6.6,6.6m0,-6.6l-6.6,6.6M1359.6,1122.5h6.6v6.6h-6.6zl6.6,6.6m0,-6.6l-6.6,6.6M1368.1,1115.4h6.6v6.6h-6.6zl6.6,6.6m0,-6.6l-6.6,6.6M1376.7,1108.5h6.6v6.6h-6.6zl6.6,6.6m0,-6.6l-6.6,6.6M1385.2,1101.6h6.6v6.6h-6.6zl6.6,6.6m0,-6.6l-6.6,6.6M1393.8,1094.9h6.6v6.6h-6.6zl6.6,6.6m0,-6.6l-6.6,6.6M1402.3,1088.2h6.6v6.6h-6.6zl6.6,6.6m0,-6.6l-6.6,6.6M1410.8,1081.6h6.6v6.6h-6.6zl6.6,6.6m0,-6.6l-6.6,6.6M1419.4,1075.1h6.6v6.6h-6.6zl6.6,6.6m0,-6.6l-6.6,6.6M1427.9,1068.6h6.6v6.6h-6.6zl6.6,6.6m0,-6.6l-6.6,6.6M1436.4,1062.1h6.6v6.6h-6.6zl6.6,6.6m0,-6.6l-6.6,6.6M1445,1055.6h6.6v6.6h-6.6zl6.6,6.6m0,-6.6l-6.6,6.6M1453.5,1049.1h6.6v6.6h-6.6zl6.6,6.6m0,-6.6l-6.6,6.6M1462.1,1042.8h6.6v6.6h-6.6zl6.6,6.6m0,-6.6l-6.6,6.6M1470.6,1036.5h6.6v6.6h-6.6zl6.6,6.6m0,-6.6l-6.6,6.6M1479.1,1030.4h6.6v6.6h-6.6zl6.6,6.6m0,-6.6l-6.6,6.6M1487.7,1024.4h6.6v6.6h-6.6zl6.6,6.6m0,-6.6l-6.6,6.6M1496.2,1018.7h6.6v6.6h-6.6zl6.6,6.6m0,-6.6l-6.6,6.6M1504.7,1013.1h6.6v6.6h-6.6zl6.6,6.6m0,-6.6l-6.6,6.6M1513.3,1007.8h6.6v6.6h-6.6zl6.6,6.6m0,-6.6l-6.6,6.6M1521.8,1002.6h6.6v6.6h-6.6zl6.6,6.6m0,-6.6l-6.6,6.6M1530.4,997.6h6.6v6.6h-6.6zl6.6,6.6m0,-6.6l-6.6,6.6M1538.9,992.6h6.6v6.6h-6.6zl6.6,6.6m0,-6.6l-6.6,6.6M1547.4,987.7h6.6v6.6h-6.6zl6.6,6.6m0,-6.6l-6.6,6.6M1556,982.8h6.6v6.6h-6.6zl6.6,6.6m0,-6.6l-6.6,6.6M1564.5,978h6.6v6.6h-6.6zl6.6,6.6m0,-6.6l-6.6,6.6M1573,973.3h6.6v6.6h-6.6zl6.6,6.6m0,-6.6l-6.6,6.6M1581.6,968.7h6.6v6.6h-6.6zl6.6,6.6m0,-6.6l-6.6,6.6M1590.1,964.2h6.6v6.6h-6.6zl6.6,6.6m0,-6.6l-6.6,6.6M1598.7,959.7h6.6v6.6h-6.6zl6.6,6.6m0,-6.6l-6.6,6.6M1607.2,955.4h6.6v6.6h-6.6zl6.6,6.6m0,-6.6l-6.6,6.6M1615.7,951.3h6.6v6.6h-6.6zl6.6,6.6m0,-6.6l-6.6,6.6M1624.3,947.2h6.6v6.6h-6.6zl6.6,6.6m0,-6.6l-6.6,6.6M1632.8,943.4h6.6v6.6h-6.6zl6.6,6.6m0,-6.6l-6.6,6.6M1641.3,939.6h6.6v6.6h-6.6zl6.6,6.6m0,-6.6l-6.6,6.6M1649.9,936h6.6v6.6h-6.6zl6.6,6.6m0,-6.6l-6.6,6.6M1658.4,932.5h6.6v6.6h-6.6zl6.6,6.6m0,-6.6l-6.6,6.6M1667,929.1h6.6v6.6h-6.6zl6.6,6.6m0,-6.6l-6.6,6.6M1675.5,925.7h6.6v6.6h-6.6zl6.6,6.6m0,-6.6l-6.6,6.6M1684,922.5h6.6v6.6h-6.6zl6.6,6.6m0,-6.6l-6.6,6.6M1692.6,919.3h6.6v6.6h-6.6zl6.6,6.6m0,-6.6l-6.6,6.6M1701.1,916.1h6.6v6.6h-6.6zl6.6,6.6m0,-6.6l-6.6,6.6M1709.6,913.1h6.6v6.6h-6.6zl6.6,6.6m0,-6.6l-6.6,6.6M1718.2,910h6.6v6.6h-6.6zl6.6,6.6m0,-6.6l-6.6,6.6M1726.7,907h6.6v6.6h-6.6zl6.6,6.6m0,-6.6l-6.6,6.6M1735.3,904.1h6.6v6.6h-6.6zl6.6,6.6m0,-6.6l-6.6,6.6M1743.8,901.1h6.6v6.6h-6.6zl6.6,6.6m0,-6.6l-6.6,6.6M1752.3,898.2h6.6v6.6h-6.6zl6.6,6.6m0,-6.6l-6.6,6.6M1760.9,895.3h6.6v6.6h-6.6zl6.6,6.6m0,-6.6l-6.6,6.6M1769.4,892.4h6.6v6.6h-6.6zl6.6,6.6m0,-6.6l-6.6,6.6M1777.9,889.5h6.6v6.6h-6.6zl6.6,6.6m0,-6.6l-6.6,6.6M1786.5,886.6h6.6v6.6h-6.6zl6.6,6.6m0,-6.6l-6.6,6.6" fill="none" stroke="#8CD942" stroke-width="1.5" stroke-linejoin="miter"/>
</g>
<g id="inset-frame">
<rect x="890.6" y="543" width="1.4" height="858" fill="#ddd"/>
<rect x="895.3" y="547.9" width="1.9" height="845.3" fill="#ccc"/>
<rect x="1828.3" y="547.9" width="2.7" height="845.3" fill="#bbb"/>
<rect x="895.3" y="1393.2" width="935.7" height="3.7" fill="#c4c4c4"/>
<rect x="892" y="543" width="3.3" height="858" fill="#000"/>
<rect x="892" y="543" width="944" height="4.9" fill="#2a2a2a"/>
<rect x="1831" y="543" width="2.4" height="858" fill="#000"/>
<rect x="1833.4" y="543" width="2.6" height="858" fill="#555"/>
<rect x="892" y="1396.9" width="944" height="1.6" fill="#000"/>
<rect x="892" y="1398.5" width="944" height="2.5" fill="#444"/>
</g>
<g id="inset-ticks" fill="#777">
<rect x="885" y="1360.0" width="7" height="2.2"/>
<rect x="885" y="1100.9" width="7" height="2.2"/>
<rect x="885" y="841.7" width="7" height="2.2"/>
<rect x="885" y="582.6" width="7" height="2.2"/>
<rect x="934.2" y="1401" width="3.6" height="5" fill="#bbb"/>
<rect x="1788.8" y="1401" width="3.6" height="5" fill="#bbb"/>
</g>
<g id="inset-labels" filter="url(#b2)">
<text id="iy0" transform="translate(881,1376.7) scale(0.852,1.0)" font-size="37.5" fill="#5a5a5a" text-anchor="end">0%</text>
<text id="iy1" transform="translate(881,1117.6) scale(0.852,1.0)" font-size="37.5" fill="#5a5a5a" text-anchor="end">20%</text>
<text id="iy2" transform="translate(881,858.4) scale(0.852,1.0)" font-size="37.5" fill="#5a5a5a" text-anchor="end">40%</text>
<text id="iy3" transform="translate(881,599.3) scale(0.852,1.0)" font-size="37.5" fill="#5a5a5a" text-anchor="end">60%</text>
<text id="ix0" transform="translate(934.4,1439.4) scale(0.852,1.0)" font-size="37.5" fill="#5a5a5a" text-anchor="middle">0</text>
<text id="ix10" transform="translate(1789.0,1439.4) scale(0.852,1.0)" font-size="37.5" fill="#5a5a5a" text-anchor="middle">10</text>
<text id="ixt" transform="translate(1362.5,1482) scale(0.934,1.0)" font-size="42.5" fill="#111" text-anchor="middle">Time[s]</text>
<text id="iyt" transform="translate(807.5,972) rotate(-90) scale(0.985,1.0)" font-size="42.5" fill="#111" text-anchor="middle">Conversion</text>
</g>
</g>
<g id="legend">
<ellipse cx="1903.8" cy="1020.4" rx="10.3" ry="12.5" fill="#00C1A1"/>
<path d="M1903.8,1061 L1917,1089.2 H1890.4 Z" fill="#FF8A5C"/>
<rect x="1891.8" y="1126.6" width="20.4" height="25" fill="#86A0D0"/>
<path d="M1886.8,1198H1919.8M1904.1,1177.5V1218.6" stroke="#FF9FD0" stroke-width="5" fill="none"/>
<path d="M1893.4,1246.1H1912.9V1270.2H1893.4ZL1912.9,1270.2M1912.9,1246.1L1893.4,1270.2" stroke="#98DC58" stroke-width="3.2" fill="none"/>
<text id="lg0" transform="translate(1954.8,1040.3) scale(0.835,1.0)" font-size="52.5" fill="#000" text-anchor="start" stroke="#000" stroke-width="0.9">F1</text>
<text id="lg1" transform="translate(1954.8,1100.4) scale(0.835,1.0)" font-size="52.5" fill="#000" text-anchor="start" stroke="#000" stroke-width="0.9">F2-B</text>
<text id="lg2" transform="translate(1954.8,1159.3) scale(0.835,1.0)" font-size="52.5" fill="#000" text-anchor="start" stroke="#000" stroke-width="0.9">F3-B</text>
<text id="lg3" transform="translate(1954.8,1217.3) scale(0.835,1.0)" font-size="52.5" fill="#000" text-anchor="start" stroke="#000" stroke-width="0.9">F4-M</text>
<text id="lg4" transform="translate(1954.8,1276.3) scale(0.835,1.0)" font-size="52.5" fill="#000" text-anchor="start" stroke="#000" stroke-width="0.9">F5-M</text>
</g>
</svg>
</body></html>
